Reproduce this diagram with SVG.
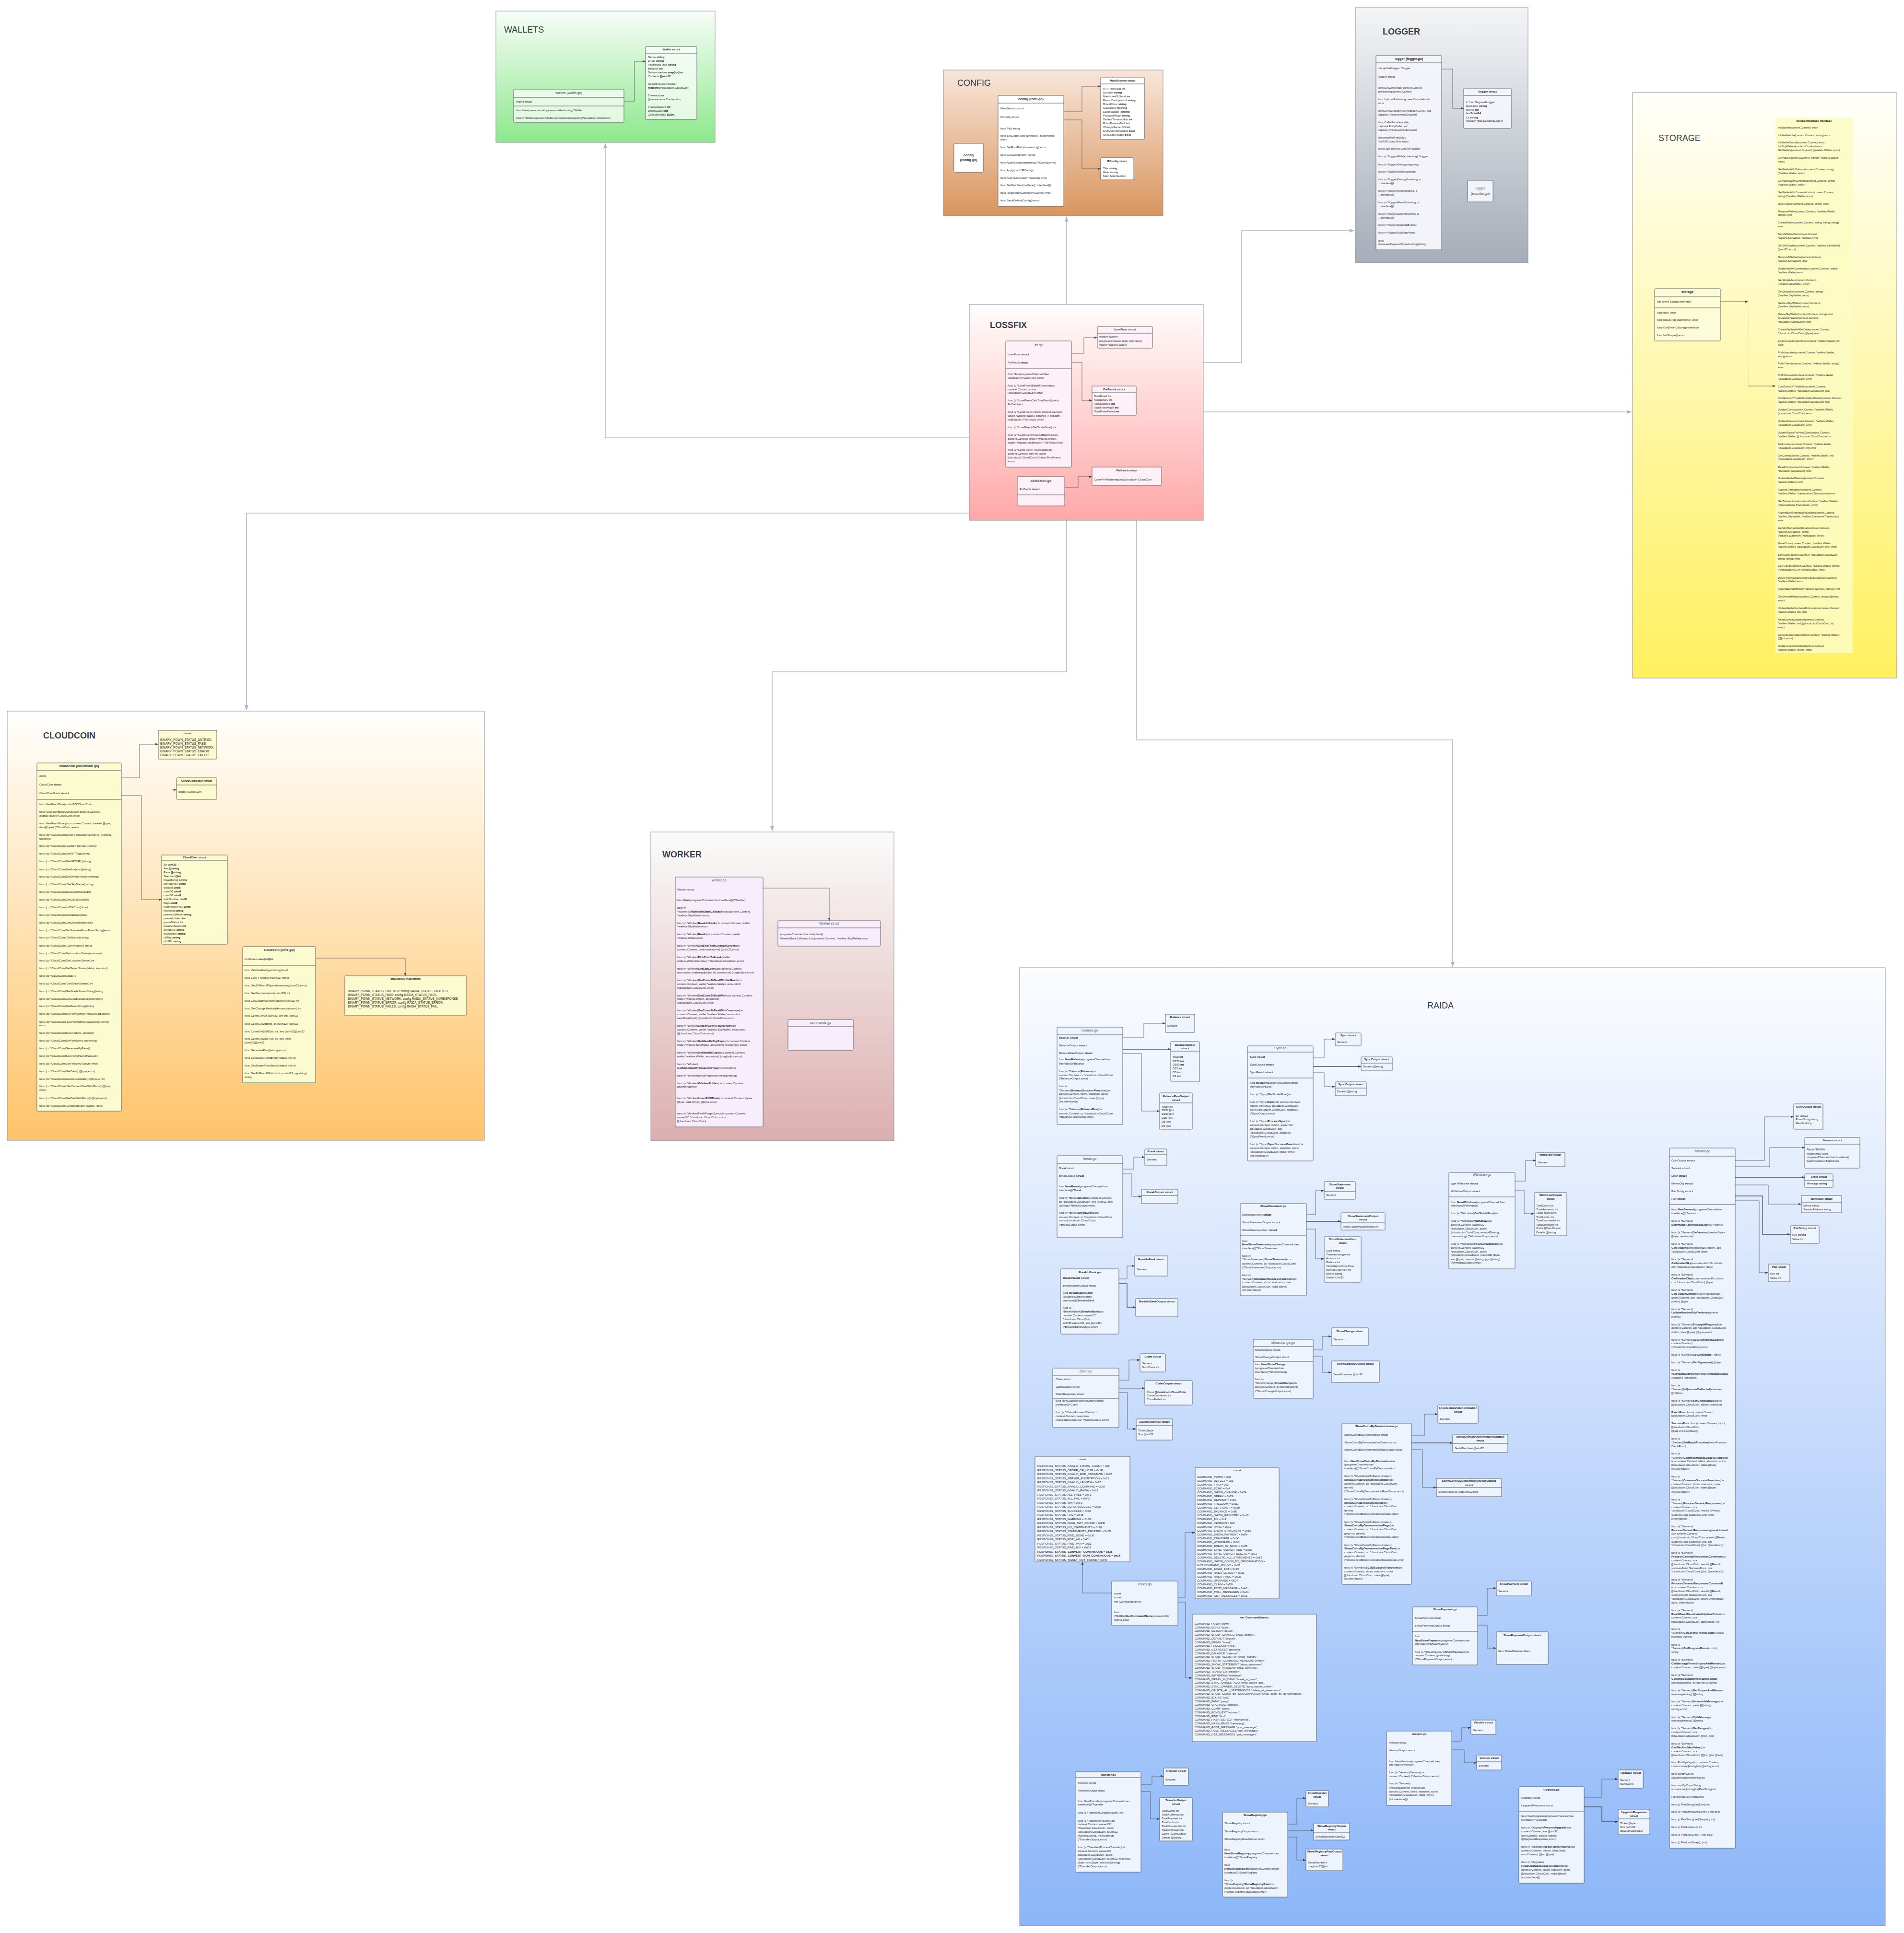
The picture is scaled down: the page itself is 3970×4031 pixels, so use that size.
<svg xmlns="http://www.w3.org/2000/svg" width="3970" height="4031" viewBox="0 0 3970 4031">
<defs>
<linearGradient id="gW" x1="0" y1="0" x2="0" y2="1"><stop offset="0" stop-color="#f7fdf7"/><stop offset="1" stop-color="#8de88d"/></linearGradient>
<linearGradient id="gC" x1="0" y1="0" x2="0" y2="1"><stop offset="0" stop-color="#f8e6da"/><stop offset="1" stop-color="#d9955f"/></linearGradient>
<linearGradient id="gL" x1="0" y1="0" x2="0" y2="1"><stop offset="0" stop-color="#f4f5f7"/><stop offset="1" stop-color="#a5adb8"/></linearGradient>
<linearGradient id="gS" x1="0" y1="0" x2="0" y2="1"><stop offset="0" stop-color="#fffffa"/><stop offset="1" stop-color="#fff05e"/></linearGradient>
<linearGradient id="gX" x1="0" y1="0" x2="0" y2="1"><stop offset="0" stop-color="#fffdfc"/><stop offset="1" stop-color="#ffa8a8"/></linearGradient>
<linearGradient id="gK" x1="0" y1="0" x2="0" y2="1"><stop offset="0" stop-color="#fffffd"/><stop offset="1" stop-color="#fec46a"/></linearGradient>
<linearGradient id="gR" x1="0" y1="0" x2="0" y2="1"><stop offset="0" stop-color="#fbfbfb"/><stop offset="1" stop-color="#dcafaf"/></linearGradient>
<linearGradient id="gA" x1="0" y1="0" x2="0" y2="1"><stop offset="0" stop-color="#fbfcff"/><stop offset="1" stop-color="#8cb6f8"/></linearGradient>
<marker id="ah" viewBox="0 0 10 8" refX="10" refY="4" markerWidth="6" markerHeight="4.8" markerUnits="userSpaceOnUse" orient="auto"><path d="M0,0 L10,4 L0,8 z" fill="#3f444c"/></marker>
<marker id="ax" viewBox="0 0 10 8" refX="10" refY="4" markerWidth="10" markerHeight="8" markerUnits="userSpaceOnUse" orient="auto"><path d="M0,0 L10,4 L0,8 z" fill="#aeb4c0"/></marker>
</defs>
<style>
.cl{stroke:#8d929b;stroke-width:1}
.ct{font-family:"Liberation Sans",Arial,sans-serif;font-size:18px;fill:#353c46}
.ctb{font-weight:bold}
.n{stroke:#3c424b;stroke-width:0.8}
.dv{stroke:#2f343b;stroke-width:0.8;fill:none}
.t{font-family:"Liberation Sans",Arial,sans-serif;font-size:6px;fill:#1d2126}
.s{font-size:5.7px}
.k{font-size:6.4px}
.tb{font-weight:bold}
.hs{font-family:"Liberation Sans",Arial,sans-serif;font-size:6px;font-weight:bold;fill:#1d2126;text-anchor:middle}
.hf{font-family:"Liberation Sans",Arial,sans-serif;font-size:7px;fill:#4a4f57;text-anchor:middle}
.hm{font-family:"Liberation Sans",Arial,sans-serif;font-size:7px;font-weight:bold;fill:#30353c;text-anchor:middle}
.e{fill:none;stroke:#4a4f58;stroke-width:0.8;marker-end:url(#ah)}
.ek{stroke-width:1.3}
.x{fill:none;stroke:#b4b9c5;stroke-width:1.6;marker-end:url(#ax)}
.fw{fill:#ffffff;fill-opacity:0.7}
.fc{fill:#ffffff}
.fl{fill:#f3f3fa}
.fs{fill:#fcfcd9}
.fi{fill:#fbfbc3;fill-opacity:0.85}
.fx{fill:#fdf0f7}
.fk{fill:#fbfbcf}
.fr{fill:#f8eefb}
.fa{fill:#edf4fd}
</style>
<rect width="3970" height="4031" fill="#ffffff"/>

<!-- package areas -->
<g id="area-wallets"><rect class="cl" x="1034" y="23" width="457" height="274" fill="url(#gW)"/><text class="ct" x="1051" y="68">WALLETS</text></g>
<g id="area-config"><rect class="cl" x="1967" y="146" width="458" height="304" fill="url(#gC)"/><text class="ct" x="1996" y="179">CONFIG</text></g>
<g id="area-logger"><rect class="cl" x="2826" y="15" width="360" height="533" fill="url(#gL)"/><text class="ct ctb" x="2883" y="72">LOGGER</text></g>
<g id="area-storage"><rect class="cl" x="3404" y="193" width="551" height="1221" fill="url(#gS)"/><text class="ct" x="3458" y="294" font-size="19">STORAGE</text></g>
<g id="area-lossfix"><rect class="cl" x="2021" y="635" width="488" height="450" fill="url(#gX)"/><text class="ct ctb" x="2064" y="684">LOSSFIX</text></g>
<g id="area-cloudcoin"><rect class="cl" x="15" y="1483" width="995" height="895" fill="url(#gK)"/><text class="ct ctb" x="90" y="1540">CLOUDCOIN</text></g>
<g id="area-worker"><rect class="cl" x="1357" y="1735" width="507" height="644" fill="url(#gR)"/><text class="ct ctb" x="1381" y="1788">WORKER</text></g>
<g id="area-raida"><rect class="cl" x="2126" y="2018" width="1805" height="1998" fill="url(#gA)"/><text class="ct" x="2976" y="2103" font-size="33.5">RAIDA</text></g>

<!-- connectors -->
<g id="connectors">
<path class="x" d="M2021,913 H1262 V299"/>
<path class="x" d="M2224,635 V452"/>
<path class="x" d="M2509,756 H2589 V481 H2824"/>
<path class="x" d="M2509,859 H3402"/>
<path class="x" d="M2021,1070 H514 V1481"/>
<path class="x" d="M2224,1085 V1401 H1610 V1733"/>
<path class="x" d="M2370,1085 V1543 H3029 V2016"/>
<path class="e" d="M1301,211 H1323 V128 H1346"/>
<path class="e" d="M2218,233 H2256 V180 H2295"/>
<path class="e" d="M2218,250 H2256 V352 H2295"/>
<path class="e" d="M3006,144 H3029 V226 H3052"/>
<path class="e" d="M3587,629 H3645"/>
<path class="e" d="M3645,629 V805" style="opacity:0.15;marker-end:none"/>
<path class="e" d="M3645,805 H3702"/>
<path class="e" d="M2234,737 H2260 V704 H2288"/>
<path class="e" d="M2234,756 H2256 V835 H2277"/>
<path class="e" d="M2220,1017 H2248 V994 H2277"/>
<path class="e" d="M253,1622 H291 V1552 H330"/>
<path class="e" d="M358,1647 H368"/>
<path class="e" d="M253,1659 H295 V1876 H337"/>
<path class="e" d="M658,1998 H845 V2035"/>
<path class="e" d="M1591,1852 H1729 V1920"/>
<path class="e" d="M2341,2163 H2385 V2134 H2430"/>
<path class="e ek" d="M2341,2188 H2441"/>
<path class="e" d="M2341,2197 H2380 V2317 H2418"/>
<path class="e" d="M2341,2438 H2364 V2413 H2387"/>
<path class="e" d="M2341,2448 H2360 V2495 H2380"/>
<path class="e" d="M2333,2667 H2350 V2640 H2366"/>
<path class="e ek" d="M2333,2677 H2350 V2726 H2368"/>
<path class="e" d="M2333,2878 H2354 V2836 H2377"/>
<path class="e" d="M2333,2895 H2387"/>
<path class="e" d="M2333,2904 H2351 V2980 H2369"/>
<path class="e" d="M2738,2206 H2761 V2167 H2784"/>
<path class="e ek" d="M2738,2224 H2838"/>
<path class="e" d="M2738,2237 H2761 V2266 H2784"/>
<path class="e" d="M2724,2533 H2743 V2483 H2761"/>
<path class="e ek" d="M2724,2547 H2796"/>
<path class="e" d="M2724,2563 H2743 V2625 H2761"/>
<path class="e" d="M2738,2815 H2757 V2787 H2776"/>
<path class="e" d="M2738,2828 H2757 V2862 H2776"/>
<path class="e" d="M2943,2994 H2970 V2949 H2998"/>
<path class="e ek" d="M2943,3009 H3029"/>
<path class="e" d="M2943,3023 H2966 V3102 H2995"/>
<path class="e" d="M3159,2463 H3181 V2420 H3202"/>
<path class="e" d="M3159,2482 H3178 V2531 H3199"/>
<path class="e" d="M3618,2420 H3679 V2329 H3740"/>
<path class="e" d="M3618,2433 H3690 V2393 H3763"/>
<path class="e ek" d="M3618,2455 H3763"/>
<path class="e" d="M3618,2471 H3687 V2511 H3756"/>
<path class="e ek" d="M3618,2494 H3675 V2574 H3733"/>
<path class="e" d="M3618,2504 H3668 V2654 H3687"/>
<path class="e" d="M2318,3322 H2257 V3257"/>
<path class="e" d="M2456,3332 H2471 V3196 H2492"/>
<path class="e" d="M2456,3341 H2472 V3499 H2486"/>
<path class="e" d="M3081,3369 H3101 V3312 H3120"/>
<path class="e" d="M3081,3389 H3101 V3437 H3120"/>
<path class="e" d="M3027,3631 H3047 V3603 H3067"/>
<path class="e" d="M3027,3649 H3053 V3676 H3079"/>
<path class="e" d="M2379,3721 H2402 V3704 H2426"/>
<path class="e" d="M2379,3736 H2399 V3793 H2418"/>
<path class="e" d="M2685,3804 H2704 V3750 H2723"/>
<path class="e" d="M2685,3817 H2739"/>
<path class="e" d="M2685,3831 H2704 V3879 H2723"/>
<path class="e" d="M3303,3749 H3340 V3710 H3374"/>
<path class="e ek" d="M3303,3768 H3340 V3799 H3374"/>
</g>

<!-- WALLETS -->
<g id="wallets-wallet-go">
<rect class="n fw" x="1071" y="186" width="230" height="69" rx="1.5"/>
<text class="hf" x="1186" y="196" fill="#2a2f36">wallets (wallet.go)</text>
<path class="dv" d="M1071,203 H1301 M1071,221 H1301"/>
<text class="t" x="1076" y="214" font-size="6.5">Wallet struct</text>
<text class="t" x="1076" y="232">func New(name, email, passwordHashstring)*Wallet</text>
<text class="t" x="1076" y="248">func(v *Wallet)GetCoinsByDenominations()map[int][]*cloudcoin.CloudCoin</text>
</g>
<g id="wallets-wallet-struct">
<rect class="n fw" x="1346" y="97" width="107" height="152" rx="1.5"/>
<text class="hs" x="1399.5" y="105">Wallet struct</text>
<path class="dv" d="M1346,111 H1453"/>
<text class="t" x="1351" y="121">Name <tspan class="tb">string</tspan></text>
<text class="t" x="1351" y="129">Email <tspan class="tb">string</tspan></text>
<text class="t" x="1351" y="137">PasswordHash <tspan class="tb">string</tspan></text>
<text class="t" x="1351" y="145">Balance <tspan class="tb">int</tspan></text>
<text class="t" x="1351" y="153">Denominations <tspan class="tb">map[int]int</tspan></text>
<text class="t" x="1351" y="161">Contents <tspan class="tb">[]uint32</tspan></text>
<text class="t" x="1351" y="177">CoinsByDenomination</text>
<text class="t" x="1351" y="185"><tspan class="tb">map[int]</tspan>[]*cloudcoin.CloudCoin</text>
<text class="t" x="1351" y="201">Transactions</text>
<text class="t" x="1351" y="209">[]transactions.Transaction</text>
<text class="t" x="1351" y="225">FrackedCount <tspan class="tb">int</tspan></text>
<text class="t" x="1351" y="233">LimboCount <tspan class="tb">int</tspan></text>
<text class="t" x="1351" y="241">CollectionMap <tspan class="tb">[][]int</tspan></text>
</g>

<!-- CONFIG -->
<g id="config-config-go">
<rect class="n fc" x="1989" y="299" width="61" height="60" rx="1.5"/>
<text class="hm" x="2019.5" y="325.5">config</text>
<text class="hm" x="2019.5" y="335.5">(config.go)</text>
</g>
<g id="config-toml-go">
<rect class="n fc" x="2081" y="199" width="137" height="231" rx="1.5"/>
<text class="hm" x="2149.5" y="209">config (toml.go)</text>
<path class="dv" d="M2081,215 H2218"/>
<text class="t" x="2086" y="228" font-size="6.4">MainSection struct</text>
<text class="t" x="2086" y="246" font-size="6.4">RConfig struct</text>
<text class="t" x="2086" y="270">func Ps() string</text>
<text class="t" x="2086" y="285">func SetExactRootPath(home, folderstring)</text>
<text class="t" x="2086" y="293">error</text>
<text class="t" x="2086" y="309">func SetRootPath(homestring) error</text>
<text class="t" x="2086" y="325">func GetConfigPath() string</text>
<text class="t" x="2086" y="341">func ApplyString(datastring)(*RConfig,error)</text>
<text class="t" x="2086" y="357">func Apply(conf *RConfig)</text>
<text class="t" x="2086" y="373">func ApplySave(conf *RConfig) error</text>
<text class="t" x="2086" y="388">func SetMainVar(interface{}, interface{})</text>
<text class="t" x="2086" y="404">func ReadApplyConfig()(*RConfig,error)</text>
<text class="t" x="2086" y="420">func SaveDefaultConfig() error</text>
</g>
<g id="config-mainsection">
<rect class="n fc" x="2295" y="161" width="91" height="130" rx="1.5"/>
<text class="hs" x="2340.5" y="170">MainSection struct</text>
<path class="dv" d="M2295,175 H2386"/>
<text class="t" x="2300" y="187">HTTPTimeout <tspan class="tb">int</tspan></text>
<text class="t" x="2300" y="195">Domain <tspan class="tb">string</tspan></text>
<text class="t" x="2300" y="203">MaxNotesToSend <tspan class="tb">int</tspan></text>
<text class="t" x="2300" y="211">ExportBackground  <tspan class="tb">string</tspan></text>
<text class="t" x="2300" y="219">BrandColor <tspan class="tb">string</tspan></text>
<text class="t" x="2300" y="227">Guardians <tspan class="tb">[]string</tspan></text>
<text class="t" x="2300" y="235">LocalRaidas <tspan class="tb">[]string</tspan></text>
<text class="t" x="2300" y="243">ProtocolMode <tspan class="tb">string</tspan></text>
<text class="t" x="2300" y="251">DefaultTimeoutMult <tspan class="tb">int</tspan></text>
<text class="t" x="2300" y="259">EchoTimeoutMult <tspan class="tb">int</tspan></text>
<text class="t" x="2300" y="267">ChangeServerSN <tspan class="tb">int</tspan></text>
<text class="t" x="2300" y="275">EncryptionDisabled <tspan class="tb">bool</tspan></text>
<text class="t" x="2300" y="283">UseLocalRaidas <tspan class="tb">bool</tspan></text>
</g>
<g id="config-rconfig">
<rect class="n fc" x="2295" y="329" width="69" height="46" rx="1.5"/>
<text class="hs" x="2329.5" y="338">RConfig struct</text>
<text class="t" x="2300" y="353">Title <tspan class="tb">string</tspan></text>
<text class="t" x="2300" y="361">Help  <tspan class="tb">string</tspan></text>
<text class="t" x="2300" y="369">Main  MainSection</text>
</g>

<!-- LOGGER -->
<g id="logger-logger-go">
<rect class="n fl" x="2869" y="116" width="137" height="405" rx="1.5"/>
<text class="hm" x="2937.5" y="125">logger (logger.go)</text>
<path class="dv" d="M2869,131 H3006"/>
<text class="t" x="2874" y="144" font-size="6.4">var globalLogger  *ilogger</text>
<text class="t" x="2874" y="162" font-size="6.4">ilogger struct</text>
<g class="t s">
<text x="2874" y="185">func SetContext(ctx context.Context,</text>
<text x="2874" y="193">prefixstring)context.Context</text>
<text x="2874" y="209">func Init(rootPathstring, needConsolebool)</text>
<text x="2874" y="217">error</text>
<text x="2874" y="233">func LevelEncoder(level zapcore.Level, enc</text>
<text x="2874" y="241">zapcore.PrimitiveArrayEncoder)</text>
<text x="2874" y="257">func CallerEncoder(caller</text>
<text x="2874" y="265">zapcore.EntryCaller, enc</text>
<text x="2874" y="273">zapcore.PrimitiveArrayEncoder)</text>
<text x="2874" y="289">func newWinFileSink(u</text>
<text x="2874" y="297">*url.URL)(zap.Sink,error)</text>
<text x="2874" y="312">func L(ctx context.Context)*ilogger</text>
<text x="2874" y="328">func (v *ilogger)With(k, valstring) *ilogger</text>
<text x="2874" y="345">func (v *ilogger)Debug(msgstring)</text>
<text x="2874" y="360">func (v *ilogger)Info(msgstring)</text>
<text x="2874" y="376">func (v *ilogger)Debugf(fmtstring, a</text>
<text x="2874" y="384">...interface{})</text>
<text x="2874" y="400">func (v *ilogger)Infof(fmtstring, a</text>
<text x="2874" y="408">...interface{})</text>
<text x="2874" y="424">func (v *ilogger)Warnf(fmtstring, a</text>
<text x="2874" y="432">...interface{})</text>
<text x="2874" y="448">func (v *ilogger)Errorf(fmtstring, a</text>
<text x="2874" y="456">...interface{})</text>
<text x="2874" y="471">func (v *ilogger)DoWrapBefore()</text>
<text x="2874" y="487">func (v *ilogger)DoWrapAfter()</text>
<text x="2874" y="504">func</text>
<text x="2874" y="511">GenerateRequestID(prefixstring)(string)</text>
</g>
</g>
<g id="logger-ilogger-struct">
<rect class="n fl" x="3052" y="184" width="99" height="84" rx="1.5"/>
<text class="hs" x="3101.5" y="193">ilogger struct</text>
<path class="dv" d="M3052,199 H3151"/>
<text class="t" x="3057" y="215">L *zap.SugaredLogger</text>
<text class="t" x="3057" y="223">lastCaller <tspan class="tb">string</tspan></text>
<text class="t" x="3057" y="231">lineNo <tspan class="tb">int</tspan></text>
<text class="t" x="3057" y="238">lastTs <tspan class="tb">int64</tspan></text>
<text class="t" x="3057" y="247">Ls <tspan class="tb">string</tspan></text>
<text class="t" x="3057" y="254">nlogger *zap.SugaredLogger</text>
</g>
<g id="logger-encoder-go">
<rect class="n fl" x="3060" y="376" width="53" height="45" rx="1.5"/>
<text class="hf" x="3086.5" y="395" font-size="7.5" fill="#333">logger</text>
<text class="hf" x="3086.5" y="406" font-size="7.5" fill="#333">(encoder.go)</text>
</g>

<!-- STORAGE -->
<g id="storage-storage">
<rect class="n fs" x="3450" y="602" width="137" height="109" rx="1.5"/>
<text class="hm" x="3518.5" y="611">storage</text>
<path class="dv" d="M3450,619 H3587 M3450,642 H3587"/>
<text class="t" x="3455" y="631" font-size="6.4">var driver StorageInterface</text>
<text class="t" x="3455" y="654">func Init() error</text>
<text class="t" x="3455" y="669">func InitLite(idFolderstring) error</text>
<text class="t" x="3455" y="685">func GetDriver()StorageInterface</text>
<text class="t" x="3455" y="701">func InitSimple() error</text>
</g>
<g id="storage-interface">
<rect class="fi" x="3702" y="245" width="161" height="1117" rx="1.5"/>
<text class="hs" x="3782.5" y="254">StorageInterface interface</text>
<g class="t s">
<text x="3707" y="268">InitWallets(context.Context) error</text>
<text x="3707" y="283.6">InitWalletsLite(context.Context, string) error</text>
<text x="3707" y="299.4">InitWalletSimple(context.Context) error</text>
<text x="3707" y="307.3">InitSkyWallets(context.Context) error</text>
<text x="3707" y="315.2">GetWallets(context.Context) ([]wallets.Wallet, error)</text>
<text x="3707" y="331.4"> GetWallet(context.Context, string) (*wallets.Wallet,</text>
<text x="3707" y="339.3">error)</text>
<text x="3707" y="355.1">GetWalletWithBalance(context.Context, string)</text>
<text x="3707" y="363">(*wallets.Wallet, error)</text>
<text x="3707" y="378.9">GetWalletWithContents(context.Context, string)</text>
<text x="3707" y="386.8">(*wallets.Wallet, error)</text>
<text x="3707" y="402.6">GetWalletWithContentsLimbo(context.Context,</text>
<text x="3707" y="410.5">string) (*wallets.Wallet, error)</text>
<text x="3707" y="426.7">DeleteWallet(context.Context, string) error</text>
<text x="3707" y="442.5">RenameWallet(context.Context, *wallets.Wallet,</text>
<text x="3707" y="450.4">string) error</text>
<text x="3707" y="466.3">CreateWallet(context.Context, string, string, string)</text>
<text x="3707" y="474.2">error</text>
<text x="3707" y="490.4">SaveSNsCache(context.Context,</text>
<text x="3707" y="498.3">*wallets.SkyWallet, []uint32) error</text>
<text x="3707" y="514.1">GetSNsCache(context.Context, *wallets.SkyWallet)</text>
<text x="3707" y="522">([]uint32, error)</text>
<text x="3707" y="538.2">RemoveSNsCache(context.Context,</text>
<text x="3707" y="546.1">*wallets.SkyWallet) error</text>
<text x="3707" y="561.9">UpdateWalletContents(ctx context.Context, wallet</text>
<text x="3707" y="569.8">*wallets.Wallet) error</text>
<text x="3707" y="585.7">GetSkyWallets(context.Context)</text>
<text x="3707" y="593.6">([]wallets.SkyWallet, error)</text>
<text x="3707" y="609.8">GetSkyWallet(context.Context, string)</text>
<text x="3707" y="617.7">(*wallets.SkyWallet, error)</text>
<text x="3707" y="633.5">GetFirstSkyWallet(context.Context)</text>
<text x="3707" y="641.4">(*wallets.SkyWallet, error)</text>
<text x="3707" y="657.2">DeleteSkyWallet(context.Context, string) error</text>
<text x="3707" y="665.1">CreateSkyWallet(context.Context,</text>
<text x="3707" y="673">*cloudcoin.CloudCoin) error</text>
<text x="3707" y="689.3">CreateSkyWalletWithData(context.Context,</text>
<text x="3707" y="697.2">*cloudcoin.CloudCoin, []byte) error</text>
<text x="3707" y="713">EmptyLocation(context.Context, *wallets.Wallet, int)</text>
<text x="3707" y="720.9">error</text>
<text x="3707" y="736.7">PutInImported(context.Context, *wallets.Wallet,</text>
<text x="3707" y="744.6">string) error</text>
<text x="3707" y="760.4">PutInTrash(context.Context, *wallets.Wallet, string)</text>
<text x="3707" y="768.3">error</text>
<text x="3707" y="784.2">PutInSuspect(context.Context, *wallets.Wallet,</text>
<text x="3707" y="792.1">[]cloudcoin.CloudCoin) error</text>
<text x="3707" y="807.9">CoinExistsInTheWallet(context.Context,</text>
<text x="3707" y="816.6">*wallets.Wallet, *cloudcoin.CloudCoin) bool</text>
<text x="3707" y="832.4">CoinExistsInTheWalletAndAuthentic(context.Context,</text>
<text x="3707" y="840.4">*wallets.Wallet, *cloudcoin.CloudCoin) bool</text>
<text x="3707" y="856.2">UpdateCoins(context.Context, *wallets.Wallet,</text>
<text x="3707" y="864.1">[]cloudcoin.CloudCoin) error</text>
<text x="3707" y="880.3"> UpdateStatus(context.Context, *wallets.Wallet,</text>
<text x="3707" y="888.2">[]cloudcoin.CloudCoin) error</text>
<text x="3707" y="904">UpdateStatusForNewCoin(context.Context,</text>
<text x="3707" y="911.9">*wallets.Wallet, []cloudcoin.CloudCoin) error</text>
<text x="3707" y="927.7"> SetLocation(context.Context, *wallets.Wallet,</text>
<text x="3707" y="935.6">[]cloudcoin.CloudCoin, int) error</text>
<text x="3707" y="951.5">GetCoins(context.Context, *wallets.Wallet, int)</text>
<text x="3707" y="959.4">([]cloudcoin.CloudCoin, error)</text>
<text x="3707" y="975.6">ReadCoin(context.Context, *wallets.Wallet,</text>
<text x="3707" y="983.5">*cloudcoin.CloudCoin) error</text>
<text x="3707" y="999.3">UpdateWalletBalance(context.Context,</text>
<text x="3707" y="1007.2">*wallets.Wallet) error</text>
<text x="3707" y="1023.4">AppendTransaction(context.Context,</text>
<text x="3707" y="1031.3">*wallets.Wallet, *transactions.Transaction) error</text>
<text x="3707" y="1047.2">GetTransactions(context.Context, *wallets.Wallet)</text>
<text x="3707" y="1055.1">([]transactions.Transaction, error)</text>
<text x="3707" y="1070.9">AppendSkyTransactionDetails(context.Context,</text>
<text x="3707" y="1078.8">*wallets.SkyWallet, *wallets.StatementTransaction)</text>
<text x="3707" y="1086.7">error</text>
<text x="3707" y="1102.9">GetSkyTransactionDetails(context.Context,</text>
<text x="3707" y="1110.8">*wallets.SkyWallet, string)</text>
<text x="3707" y="1118.7">(*wallets.StatementTransaction, error)</text>
<text x="3707" y="1134.5">MoveCoins(context.Context, *wallets.Wallet,</text>
<text x="3707" y="1142.4">*wallets.Wallet, []cloudcoin.CloudCoin) (int, error)</text>
<text x="3707" y="1158.7">SaveCoin(context.Context, *cloudcoin.CloudCoin,</text>
<text x="3707" y="1166.6">string, string) error</text>
<text x="3707" y="1182.4">GetReceipt(context.Context, *wallets.Wallet, string)</text>
<text x="3707" y="1190.3">(*transactions.GetReceiptOutput, error)</text>
<text x="3707" y="1206.5">DeleteTransactionsAndReceipts(context.Context,</text>
<text x="3707" y="1214.4">*wallets.Wallet) error</text>
<text x="3707" y="1229.8">AppendSenderHistory(context.Context, string) error</text>
<text x="3707" y="1246">GetSenderHistory(context.Context, string) ([]string,</text>
<text x="3707" y="1254">error)</text>
<text x="3707" y="1269.8">UpdateWalletContentsForLocation(context.Context,</text>
<text x="3707" y="1277.7">*wallets.Wallet, int) error</text>
<text x="3707" y="1293.9">ReadCoinsInLocation(context.Context,</text>
<text x="3707" y="1301.8">*wallets.Wallet, int) ([]cloudcoin.CloudCoin, int,</text>
<text x="3707" y="1309.7">error)</text>
<text x="3707" y="1325.5">GetCollectionMap(context.Context, *wallets.Wallet)</text>
<text x="3707" y="1333.4">([][]int, error)</text>
<text x="3707" y="1349.3">UpdateCollectionMap(context.Context,</text>
<text x="3707" y="1357.2">*wallets.Wallet, [][]int) (error)</text>
</g>
</g>

<!-- LOSSFIX -->
<g id="lossfix-fix-go">
<rect class="n fx" x="2097" y="711" width="137" height="263" rx="1.5"/>
<text class="hf" x="2165.5" y="722" font-size="7.5">fix.go</text>
<text class="t" x="2101" y="741" font-size="6.4">LossFixer <tspan class="tb">struct</tspan></text>
<text class="t" x="2101" y="758" font-size="6.4">FixResult <tspan class="tb">struct</tspan></text>
<path class="dv" d="M2097,769 H2234"/>
<g class="t">
<text x="2101" y="782">func New(progressChannelchan</text>
<text x="2101" y="790">interface{})(*LossFixer,error)</text>
<text x="2101" y="806">func (v *LossFixer)BatchFunction(ctx</text>
<text x="2101" y="814">context.Context, coins</text>
<text x="2101" y="821">[]cloudcoin.CloudCoin)error</text>
<text x="2101" y="837">func (v *LossFixer)CalcTotalBatch(batch</text>
<text x="2101" y="845">FixBatch)int</text>
<text x="2101" y="861">func (v *LossFixer) Fix(ctx context.Context,</text>
<text x="2101" y="869">wallet *wallets.Wallet, batches []FixBatch,</text>
<text x="2101" y="877">noBf bool) (*FixResult, error)</text>
<text x="2101" y="893"> func (v *LossFixer) GetStrideSize() int</text>
<text x="2101" y="909">func (v *LossFixer)ProcessBatchFix(ctx</text>
<text x="2101" y="917">context.Context, wallet *wallets.Wallet,</text>
<text x="2101" y="925">batch FixBatch, noBfbool) (*FixResult,error)</text>
<text x="2101" y="940">func (v *LossFixer) FixOnRaida(ctx</text>
<text x="2101" y="948">context.Context, ridx int, coins</text>
<text x="2101" y="956">[]cloudcoin.CloudCoin) (*raida.FindResult,</text>
<text x="2101" y="964">error)</text>
</g>
</g>
<g id="lossfix-lossfixer-struct">
<rect class="n fx" x="2288" y="681" width="115" height="45" rx="1.5"/>
<text class="hs" x="2345.5" y="689">LossFixer struct</text>
<path class="dv" d="M2288,696 H2403"/>
<text class="t" x="2292" y="704">worker.Worker</text>
<text class="t" x="2292" y="713">progressChannel chan interface{}</text>
<text class="t" x="2292" y="721">Wallet *wallets.Wallet</text>
</g>
<g id="lossfix-fixresult-struct">
<rect class="n fx" x="2277" y="805" width="92" height="61" rx="1.5"/>
<text class="hs" x="2323" y="814">FixResult struct</text>
<path class="dv" d="M2277,819 H2369"/>
<text class="t" x="2281" y="828">TotalFixed  <tspan class="tb">int</tspan></text>
<text class="t" x="2281" y="836">TotalErrors <tspan class="tb">int</tspan></text>
<text class="t" x="2281" y="844">TotalSkipped <tspan class="tb">int</tspan></text>
<text class="t" x="2281" y="852">TotalFixesMade <tspan class="tb">int</tspan></text>
<text class="t" x="2281" y="860">TotalFixesFailed <tspan class="tb">int</tspan></text>
</g>
<g id="lossfix-coinbatch-go">
<rect class="n fx" x="2121" y="994" width="99" height="61" rx="1.5"/>
<text class="hf" x="2170.5" y="1004.5" font-size="7.5" font-weight="bold">coinbatch.go</text>
<text class="t" x="2126" y="1022" font-size="6.4">FixBatch <tspan class="tb">struct</tspan></text>
<path class="dv" d="M2121,1032 H2220"/>
</g>
<g id="lossfix-fixbatch-struct">
<rect class="n fx" x="2277" y="974" width="145" height="38" rx="1.5"/>
<text class="hs" x="2349.5" y="983">FixBatch struct</text>
<text class="t" x="2281" y="1002">CoinsPerRaidamap[int][]cloudcoin.CloudCoin</text>
</g>

<!-- CLOUDCOIN -->
<g id="cloudcoin-cloudcoin-go">
<rect class="n fk" x="77" y="1591" width="176" height="726" rx="1.5"/>
<text class="hm" x="165" y="1600" font-size="6.6">cloudcoin (cloudcoin.go)</text>
<path class="dv" d="M77,1607 H253 M77,1667 H253"/>
<text class="t" x="82" y="1620">const</text>
<text class="t" x="82" y="1638">CloudCoin <tspan class="tb">struct</tspan></text>
<text class="t" x="82" y="1656">CloudCoinStack <tspan class="tb">struct</tspan></text>
<g class="t">
<text x="82" y="1679">func NewFromData(snuint32)*CloudCoin</text>
<text x="82" y="1695">func NewFromBinarySingle(ctx context.Context,</text>
<text x="82" y="1703">alldata []byte)(*CloudCoin,error)</text>
<text x="82" y="1719">func NewFromBinary(ctx context.Context, header []byte,</text>
<text x="82" y="1727">data[] byte) (*CloudCoin, error)</text>
<text x="82" y="1743">func (cc *CloudCoin)SetNFTData(domainstring, urlstring,</text>
<text x="82" y="1751">tagstring)</text>
<text x="82" y="1766">func (cc *CloudCoin) GetNFTDomain() string</text>
<text x="82" y="1782">func (cc *CloudCoin)GetNFTTag()string</text>
<text x="82" y="1798">func (cc *CloudCoin)GetNFTURL()string</text>
<text x="82" y="1815">func (cc *CloudCoin)SetAns(ans []string)</text>
<text x="82" y="1830">func (cc *CloudCoin)SetSkyName(namestring)</text>
<text x="82" y="1846">func (cc *CloudCoin) GetSkyName() string</text>
<text x="82" y="1862">func (cc *CloudCoin)SetCoinID(iduint16)</text>
<text x="82" y="1878">func (cc *CloudCoin)GetCoinID()uint16</text>
<text x="82" y="1894">func (cc *CloudCoin) IsIDXCoin() bool</text>
<text x="82" y="1910">func (cc *CloudCoin)IsChatCoin()bool</text>
<text x="82" y="1926">func (cc *CloudCoin)GetDenomination()int</text>
<text x="82" y="1942">func (cc *CloudCoin)SetStatusesFromPownString()error</text>
<text x="82" y="1957">func (cc *CloudCoin) GetName() string</text>
<text x="82" y="1974">func (cc *CloudCoin) GetImName() string</text>
<text x="82" y="1990">func (cc *CloudCoin)SetLocationStatus(statusint)</text>
<text x="82" y="2005">func (cc *CloudCoin)GetLocationStatus()int</text>
<text x="82" y="2021">func (cc *CloudCoin)SetDetectStatus(idxint, statusint)</text>
<text x="82" y="2037">func (cc *CloudCoin)Grade()</text>
<text x="82" y="2053">func (cc *CloudCoin) GetGradeStatus() int</text>
<text x="82" y="2069">func (cc *CloudCoin)GetGradeStatusString()string</text>
<text x="82" y="2085">func (cc *CloudCoin)GetGradeStatusString()string</text>
<text x="82" y="2100">func (cc *CloudCoin)GetPownString()string</text>
<text x="82" y="2116">func (cc *CloudCoin)SetPownStringFromDetectStatus()</text>
<text x="82" y="2133">func (cc *CloudCoin) SetPownString(pownstring string)</text>
<text x="82" y="2140">error</text>
<text x="82" y="2156">func (cc *CloudCoin)SetAn(idxint, anstring)</text>
<text x="82" y="2172">func (cc *CloudCoin)SetPan(idxint, panstring)</text>
<text x="82" y="2188">func (cc *CloudCoin)GenerateMyPans()</text>
<text x="82" y="2204">func (cc *CloudCoin)SetAnsToPansIfPassed()</text>
<text x="82" y="2220">func (cc *CloudCoin)GetHeader() ([]byte,error)</text>
<text x="82" y="2236">func (cc *CloudCoin)GetData() ([]byte,error)</text>
<text x="82" y="2252">func (cc *CloudCoin)GetContentData() ([]byte,error)</text>
<text x="82" y="2267">func (cc *CloudCoin) GetContentDataWithPans() ([]byte,</text>
<text x="82" y="2275">error)</text>
<text x="82" y="2292">func (cc *CloudCoin)GetDataWithPans() ([]byte,error)</text>
<text x="82" y="2308">func (cc *CloudCoin) EncodeBinaryPowns() []byte</text>
</g>
</g>
<g id="cloudcoin-const">
<rect class="n fk" x="330" y="1523" width="122" height="60" rx="1.5"/>
<text class="hs" x="391" y="1531">const</text>
<g class="t k">
<text x="334" y="1545">BINARY_POWN_STATUS_UNTRIED</text>
<text x="334" y="1553">BINARY_POWN_STATUS_PASS</text>
<text x="334" y="1561">BINARY_POWN_STATUS_NETWORK</text>
<text x="334" y="1569">BINARY_POWN_STATUS_ERROR</text>
<text x="334" y="1577">BINARY_POWN_STATUS_FAILED</text>
</g>
</g>
<g id="cloudcoin-stack-struct">
<rect class="n fk" x="368" y="1622" width="84" height="45" rx="1.5"/>
<text class="hs" x="410" y="1630">CloudCoinStack struct</text>
<path class="dv" d="M368,1637 H452"/>
<text class="t" x="372" y="1653">Stack []CloudCoin</text>
</g>
<g id="cloudcoin-cloudcoin-struct">
<rect class="n fk" x="337" y="1783" width="137" height="186" rx="1.5"/>
<text class="hs" x="405.5" y="1790">CloudCoin struct</text>
<path class="dv" d="M337,1794 H474"/>
<g class="t">
<text x="341" y="1805">Sn   <tspan class="tb">uint32</tspan></text>
<text x="341" y="1813">Ans   <tspan class="tb">[]string</tspan></text>
<text x="341" y="1821">Pans     <tspan class="tb">[]string</tspan></text>
<text x="341" y="1829">Statuses <tspan class="tb">[]int</tspan></text>
<text x="341" y="1837">PownString <tspan class="tb">string</tspan></text>
<text x="341" y="1845">formatType <tspan class="tb">uint8</tspan></text>
<text x="341" y="1853">cloudId <tspan class="tb">uint8</tspan></text>
<text x="341" y="1861">coinID1 <tspan class="tb">uint8</tspan></text>
<text x="341" y="1869">coinID2 <tspan class="tb">uint8</tspan></text>
<text x="341" y="1877">splitNumber <tspan class="tb">uint8</tspan></text>
<text x="341" y="1885">flags <tspan class="tb">uint8</tspan></text>
<text x="341" y="1893">encryptionType <tspan class="tb">uint8</tspan></text>
<text x="341" y="1901">receiptId <tspan class="tb">string</tspan></text>
<text x="341" y="1909">passwordHash <tspan class="tb">string</tspan></text>
<text x="341" y="1917">passed, failed <tspan class="tb">int</tspan></text>
<text x="341" y="1925">gradeStatus <tspan class="tb">int</tspan></text>
<text x="341" y="1933">locationStatus <tspan class="tb">int</tspan></text>
<text x="341" y="1941">skyName <tspan class="tb">string</tspan></text>
<text x="341" y="1949">nftDomain <tspan class="tb">string</tspan></text>
<text x="341" y="1957">nftTag <tspan class="tb">string</tspan></text>
<text x="341" y="1965">nftURL <tspan class="tb">string</tspan></text>
</g>
</g>
<g id="cloudcoin-utils-go">
<rect class="n fk" x="506" y="1974" width="152" height="284" rx="1.5"/>
<text class="hm" x="582" y="1983" font-size="6.6">cloudcoin (utils.go)</text>
<text class="t" x="510" y="2002">bin2status <tspan class="tb">map[int]int</tspan></text>
<path class="dv" d="M506,2013 H658"/>
<g class="t">
<text x="510" y="2025">func ValidateGuid(guidstring) bool</text>
<text x="510" y="2041">func GetIPFromSn(snuint32) string</text>
<text x="510" y="2057">func GetSNFromIP(ipaddressstring)(uint32,error)</text>
<text x="510" y="2073">func GetDenomination(snuint32) int</text>
<text x="510" y="2089">func GetLegacyDenomination(snuint32) int</text>
<text x="510" y="2105">func GetChangeMethod(denominationint) int</text>
<text x="510" y="2120">func CoinsGetA(a []uint32, cnt int) []uint32</text>
<text x="510" y="2137">func CoinsGet25B(sb, ss []uint32) []uint32</text>
<text x="510" y="2153">func CoinsGet100E(sb, ss, sss []uint32)[]uint32</text>
<text x="510" y="2168">func CoinsGet250F(sb, ss, sss, ssss</text>
<text x="510" y="2176">[]uint32)[]uint32</text>
<text x="510" y="2192">func GeneratePan()(string,error)</text>
<text x="510" y="2208">func GetStatusFromBinary(status int) int</text>
<text x="510" y="2224">func GetBinaryFromStatus(status int) int</text>
<text x="510" y="2240">func GetANFromPG(ridx int, sn uint32, pg string)</text>
<text x="510" y="2248">string</text>
</g>
</g>
<g id="cloudcoin-bin2status">
<rect class="n fk" x="719" y="2035" width="253" height="83" rx="1.5"/>
<text class="hs" x="845.5" y="2043">bin2status map[int]int</text>
<g class="t k">
<text x="725" y="2069">BINARY_POWN_STATUS_UNTRIED: config.RAIDA_STATUS_UNTRIED,</text>
<text x="725" y="2077">BINARY_POWN_STATUS_PASS: config.RAIDA_STATUS_PASS,</text>
<text x="725" y="2085">BINARY_POWN_STATUS_NETWORK: config.RAIDA_STATUS_NORESPONSE,</text>
<text x="725" y="2093">BINARY_POWN_STATUS_ERROR: config.RAIDA_STATUS_ERROR,</text>
<text x="725" y="2101">BINARY_POWN_STATUS_FAILED: config.RAIDA_STATUS_FAIL,</text>
</g>
</g>

<!-- WORKER -->
<g id="worker-worker-go">
<rect class="n fr" x="1408" y="1829" width="183" height="521" rx="1.5"/>
<text class="hf" x="1499.5" y="1838" font-size="7.5">worker.go</text>
<text class="t" x="1412" y="1857">Worker struct</text>
<g class="t">
<text x="1412" y="1879">func <tspan class="tb">New</tspan>(progressChannelchan interface{})(*Worker)</text>
<text x="1412" y="1895">func (v</text>
<text x="1412" y="1903">*Worker)<tspan class="tb">SetBreakInBankCallback</tspan>(func(context.Context,</text>
<text x="1412" y="1911">*wallets.SkyWallet) error)</text>
<text x="1412" y="1927">func (v *Worker)<tspan class="tb">BreakInBank</tspan>(ctx context.Context, wallet</text>
<text x="1412" y="1934">*wallets.SkyWallet)error</text>
<text x="1412" y="1950">func (v *Worker)<tspan class="tb">Break</tspan>(ctx context.Context, wallet</text>
<text x="1412" y="1958">*wallets.Wallet)error</text>
<text x="1412" y="1974">func (v *Worker)<tspan class="tb">GetSNsFromChangeServer</tspan>(ctx</text>
<text x="1412" y="1982">context.Context, denominationint) ([]uint32,error)</text>
<text x="1412" y="1998">func (v *Worker)<tspan class="tb">PickCoinToBreak</tspan>(wallet</text>
<text x="1412" y="2006">wallets.WalletInterface) (*cloudcoin.CloudCoin,error)</text>
<text x="1412" y="2022">func (v *Worker)<tspan class="tb">GetExpCoins</tspan>(ctx context.Context,</text>
<text x="1412" y="2030">amountint, totalsmap[int]int, isLooseebool) (map[int]int,error)</text>
<text x="1412" y="2046">func (v *Worker)<tspan class="tb">GetCoinsToDealWithNoRead</tspan>(ctx</text>
<text x="1412" y="2054">context.Context, wallet *wallets.Wallet, amountint)</text>
<text x="1412" y="2062">([]cloudcoin.CloudCoin,error)</text>
<text x="1412" y="2078">func (v *Worker)<tspan class="tb">GetCoinsToDealWith</tspan>(ctx context.Context,</text>
<text x="1412" y="2085">wallet *wallets.Wallet, amountint)</text>
<text x="1412" y="2093">([]cloudcoin.CloudCoin,error)</text>
<text x="1412" y="2109">func (v *Worker)<tspan class="tb">GetCoinsToDealWithCommon</tspan>(ctx</text>
<text x="1412" y="2117">context.Context, wallet *wallets.Wallet, amountint,</text>
<text x="1412" y="2125">needReadbool) ([]cloudcoin.CloudCoin,error)</text>
<text x="1412" y="2141">func (v *Worker)<tspan class="tb">GetSkyCoinsToDealWith</tspan>(ctx</text>
<text x="1412" y="2149">context.Context, wallet *wallets.SkyWallet, amountint)</text>
<text x="1412" y="2157">([]cloudcoin.CloudCoin,error)</text>
<text x="1412" y="2173">func (v *Worker)<tspan class="tb">GetHandleSkyExps</tspan>(ctx context.Context,</text>
<text x="1412" y="2181">wallet *wallets.SkyWallet, amountint) (map[int]int,error)</text>
<text x="1412" y="2197">func (v *Worker)<tspan class="tb">GetHandleExps</tspan>(ctx context.Context,</text>
<text x="1412" y="2205">wallet *wallets.Wallet, amountint) (map[int]int,error)</text>
<text x="1412" y="2221">func (v *Worker)</text>
<text x="1412" y="2229"><tspan class="tb">GetStatementTransactionType</tspan>(typeint)string</text>
<text x="1412" y="2245">func (v *Worker)SendProgress(messagestring)</text>
<text x="1412" y="2261">func (v *Worker)<tspan class="tb">ValidateFolder</tspan>(ctx context.Context,</text>
<text x="1412" y="2268">pathstring)error</text>
<text x="1412" y="2292">func (v *Worker)<tspan class="tb">InsertPNGData</tspan>(ctx context.Context, bytes</text>
<text x="1412" y="2300">[]byte, data []byte) ([]byte,error)</text>
<text x="1412" y="2324">func (s *Worker)FireNForgetSync(ctx context.Context,</text>
<text x="1412" y="2332">ownerCC *cloudcoin.CloudCoin, coins</text>
<text x="1412" y="2340">[]cloudcoin.CloudCoin)</text>
</g>
</g>
<g id="worker-worker-struct">
<rect class="n fr" x="1622" y="1920" width="214" height="53" rx="1.5"/>
<text class="hf" x="1729" y="1928" font-size="6.4" fill="#222">Worker struct</text>
<path class="dv" d="M1622,1935 H1836"/>
<text class="t" x="1627" y="1950">progressChannel chan interface{}</text>
<text class="t" x="1627" y="1959">BreakInBankCallback func(context.Context, *wallets.SkyWallet) error</text>
</g>
<g id="worker-commands-go">
<rect class="n fr" x="1643" y="2126" width="136" height="64" rx="1.5"/>
<text class="hf" x="1711" y="2134.5" font-size="7.5">commands.go</text>
<path class="dv" d="M1643,2141 H1779"/>
</g>

<!-- RAIDA -->
<g id="raida-balance-go">
<rect class="n fa" x="2204" y="2142" width="137" height="203" rx="1.5"/>
<text class="hf" x="2272.5" y="2151">balance.go</text>
<path class="dv" d="M2204,2158 H2341"/>
<g class="t">
<text x="2208" y="2166">Balance <tspan class="tb">struct</tspan></text>
<text x="2208" y="2182">BalanceOutput <tspan class="tb">struct</tspan></text>
<text x="2208" y="2198">BalanceRawOutput <tspan class="tb">struct</tspan></text>
<text x="2208" y="2211">func <tspan class="tb">NewBalance</tspan>(progressChannelchan</text>
<text x="2208" y="2220">interface{})*Balance</text>
<text x="2208" y="2236">func (v *Balance)<tspan class="tb">Balance</tspan>(ctx</text>
<text x="2208" y="2244">context.Context, cc *cloudcoin.CloudCoin)</text>
<text x="2208" y="2251">(*BalanceOutput,error)</text>
<text x="2208" y="2267">func (v</text>
<text x="2208" y="2276">*Servant)<tspan class="tb">BalanceSuccessFunction</tspan>(ctx</text>
<text x="2208" y="2283">context.Context, idxint, statusint, coins</text>
<text x="2208" y="2292">[]cloudcoin.CloudCoin, rdata []byte)</text>
<text x="2208" y="2299">(int,interface{})</text>
<text x="2208" y="2315">func (v *Balance)<tspan class="tb">BalanceRaw</tspan>(ctx</text>
<text x="2208" y="2324">context.Context, cc *cloudcoin.CloudCoin)</text>
<text x="2208" y="2331">(*BalanceRawOutput,error)</text>
</g>
</g>
<g id="raida-balance-struct"><rect class="n fa" x="2430" y="2115" width="61" height="38" rx="1.5"/><text class="hs" x="2460.5" y="2123">Balance struct</text><text class="t" x="2434" y="2141">Servant</text></g>
<g id="raida-balanceoutput-struct"><rect class="n fa" x="2441" y="2172" width="60" height="84" rx="1.5"/><text class="hs" x="2471" y="2181">BalanceOutput</text><text class="hs" x="2471" y="2188">struct</text><path class="dv" d="M2441,2192 H2501"/>
<g class="t"><text x="2445" y="2206">Total <tspan class="tb">int</tspan></text><text x="2445" y="2215">D250 <tspan class="tb">int</tspan></text><text x="2445" y="2222">D100 <tspan class="tb">int</tspan></text><text x="2445" y="2230">D25 <tspan class="tb">int</tspan></text><text x="2445" y="2238">D5 <tspan class="tb">int</tspan></text><text x="2445" y="2246">D1 <tspan class="tb">int</tspan></text></g></g>
<g id="raida-balancerawoutput-struct"><rect class="n fa" x="2418" y="2279" width="68" height="77" rx="1.5"/><text class="hs" x="2452" y="2288">BalanceRawOutput</text><text class="hs" x="2452" y="2296">struct</text><path class="dv" d="M2418,2300 H2486"/>
<g class="t"><text x="2422" y="2310">Total []int</text><text x="2422" y="2317">D250 []int</text><text x="2422" y="2325">D100 []int</text><text x="2422" y="2333">D25 []int</text><text x="2422" y="2341">D5 []int</text><text x="2422" y="2350">D1 []int</text></g></g>

<g id="raida-break-go">
<rect class="n fa" x="2204" y="2410" width="137" height="171" rx="1.5"/>
<text class="hf" x="2272.5" y="2419">break.go</text>
<path class="dv" d="M2204,2426 H2341"/>
<g class="t">
<text x="2208" y="2438">Break struct</text>
<text x="2208" y="2454">BreakOutput <tspan class="tb">struct</tspan></text>
<text x="2208" y="2476">func <tspan class="tb">NewBreak</tspan>(progressChannelchan</text>
<text x="2208" y="2484">interface{})*Break</text>
<text x="2208" y="2500">func (v *Break)<tspan class="tb">Break</tspan>(ctx context.Context,</text>
<text x="2208" y="2508">cc *cloudcoin.CloudCoin, sns []uint32, pgs</text>
<text x="2208" y="2516">[]string) (*BreakOutput,error)</text>
<text x="2208" y="2531">func (v *Break)<tspan class="tb">BreakCoins</tspan>(ctx</text>
<text x="2208" y="2540">context.Context, cc *cloudcoin.CloudCoin,</text>
<text x="2208" y="2547">coins []cloudcoin.CloudCoin)</text>
<text x="2208" y="2556">(*BreakOutput,error)</text>
</g>
</g>
<g id="raida-break-struct"><rect class="n fa" x="2387" y="2396" width="46" height="35" rx="1.5"/><text class="hs" x="2410" y="2403">Break struct</text><path class="dv" d="M2387,2408 H2433"/><text class="t" x="2391" y="2420">Servant</text></g>
<g id="raida-breakoutput-struct"><rect class="n fa" x="2380" y="2480" width="76" height="30" rx="1.5"/><text class="hs" x="2418" y="2488">BreakOutput struct</text><path class="dv" d="M2380,2493 H2456"/></g>

<g id="raida-breakinbank-go">
<rect class="n fa" x="2211" y="2646" width="122" height="136" rx="1.5"/>
<text class="hs" x="2272" y="2655">BreakInBank.go</text>
<g class="t">
<text x="2216" y="2667" font-weight="bold">BreakInBank struct</text>
<text x="2216" y="2683">BreakInBankOutput struct</text>
<text x="2216" y="2698">func <tspan class="tb">NewBreakInBank</tspan></text>
<text x="2216" y="2706">(progressChannelchan</text>
<text x="2216" y="2714">interface{})*BreakInBank</text>
<text x="2216" y="2729">func (v</text>
<text x="2216" y="2737">*BreakInBank)<tspan class="tb">BreakInBank</tspan>(ctx</text>
<text x="2216" y="2745">context.Context, ownerCC</text>
<text x="2216" y="2753">*cloudcoin.CloudCoin,</text>
<text x="2216" y="2761">snToBreakuint32, sns []uint32)</text>
<text x="2216" y="2769">(*BreakInBankOutput,error)</text>
</g>
</g>
<g id="raida-breakinbank-struct"><rect class="n fa" x="2366" y="2619" width="69" height="42" rx="1.5"/><text class="hs" x="2400.5" y="2628">BreakInBank struct</text><text class="t" x="2370" y="2649">Servant</text></g>
<g id="raida-breakinbankoutput-struct"><rect class="n fa" x="2368" y="2708" width="88" height="38" rx="1.5"/><text class="hs" x="2412" y="2716">BreakInBankOutput struct</text></g>

<g id="raida-claim-go">
<rect class="n fa" x="2195" y="2853" width="138" height="124" rx="1.5"/>
<text class="hf" x="2264" y="2862">claim.go</text>
<path class="dv" d="M2195,2869 H2333 M2195,2916 H2333"/>
<g class="t">
<text x="2201" y="2878">Claim struct</text>
<text x="2201" y="2894">ClaimOutput struct</text>
<text x="2201" y="2909">ClaimResponse struct</text>
<text x="2201" y="2923">func NewClaim(progressChannelchan</text>
<text x="2201" y="2931">interface{})*Claim</text>
<text x="2201" y="2947">func (v *Claim)ProcessClaim(ctx</text>
<text x="2201" y="2955">context.Context, response</text>
<text x="2201" y="2963">[]UpgradeResponse) (*ClaimOutput,error)</text>
</g>
</g>
<g id="raida-claim-struct"><rect class="n fa" x="2377" y="2823" width="53" height="38" rx="1.5"/><text class="hs" x="2403.5" y="2831">Claim struct</text><text class="t" x="2381" y="2845">Servant</text><text class="t" x="2381" y="2853">NumCoins int</text></g>
<g id="raida-claimoutput-struct"><rect class="n fa" x="2387" y="2879" width="99" height="51" rx="1.5"/><text class="hs" x="2436.5" y="2887">ClaimOutput struct</text><text class="t" x="2391" y="2905">Coins <tspan class="tb">[]cloudcoin.CloudCoin</tspan></text><text class="t" x="2391" y="2912">CoinsConverted int</text><text class="t" x="2391" y="2920">CoinsFailed int</text></g>
<g id="raida-claimresponse-struct"><rect class="n fa" x="2369" y="2959" width="76" height="44" rx="1.5"/><text class="hs" x="2407" y="2967">ClaimResponse struct</text><path class="dv" d="M2369,2973 H2445"/><text class="t" x="2373" y="2985">Ticket []byte</text><text class="t" x="2373" y="2993">Sns []uint32</text></g>

<g id="raida-sync-go">
<rect class="n fa" x="2601" y="2181" width="137" height="240" rx="1.5"/>
<text class="hf" x="2669.5" y="2188" font-size="6.4">Sync.go</text>
<path class="dv" d="M2601,2194 H2738 M2601,2248 H2738"/>
<g class="t">
<text x="2606" y="2206">Sync <tspan class="tb">struct</tspan></text>
<text x="2606" y="2222">SyncOutput <tspan class="tb">struct</tspan></text>
<text x="2606" y="2238">SyncResult <tspan class="tb">struct</tspan></text>
<text x="2606" y="2260">func <tspan class="tb">NewSync</tspan>(progressChannelchan</text>
<text x="2606" y="2268">interface{})*Sync</text>
<text x="2606" y="2284">func (v *Sync)<tspan class="tb">GetStrideSize</tspan>()int</text>
<text x="2606" y="2300">func (v *Sync)<tspan class="tb">Sync</tspan>(ctx context.Context,</text>
<text x="2606" y="2308">ridxint, ownerCC cloudcoin.CloudCoin,</text>
<text x="2606" y="2316">coins []cloudcoin.CloudCoin, addbool)</text>
<text x="2606" y="2324">(*SyncOutput,error)</text>
<text x="2606" y="2340">func (v *Sync)<tspan class="tb">ProcessSync</tspan>(ctx</text>
<text x="2606" y="2348">context.Context, ridxint, ownerCC</text>
<text x="2606" y="2356">cloudcoin.CloudCoin, ccs</text>
<text x="2606" y="2364">[]cloudcoin.CloudCoin, addbool)</text>
<text x="2606" y="2372">(*SyncResult,error)</text>
<text x="2606" y="2388">func (v *Sync)<tspan class="tb">SyncSuccessFunction</tspan>(ctx</text>
<text x="2606" y="2396">context.Context, idxint, statusint, coins</text>
<text x="2606" y="2404">[]cloudcoin.CloudCoin, rdata []byte)</text>
<text x="2606" y="2412">(int,interface{})</text>
</g>
</g>
<g id="raida-sync-struct"><rect class="n fa" x="2784" y="2154" width="54" height="27" rx="1.5"/><text class="hs" x="2811" y="2161">Sync struct</text><text class="t" x="2788" y="2175">Servant</text></g>
<g id="raida-syncoutput-struct"><rect class="n fa" x="2838" y="2204" width="65" height="29" rx="1.5"/><text class="hs" x="2870.5" y="2211">SyncOutput struct</text><path class="dv" d="M2838,2217 H2903"/><text class="t" x="2842" y="2226">Details [][]string</text></g>
<g id="raida-syncresult-struct"><rect class="n fa" x="2784" y="2256" width="65" height="29" rx="1.5"/><text class="hs" x="2816.5" y="2263">SyncOutput struct</text><path class="dv" d="M2784,2269 H2849"/><text class="t" x="2788" y="2278">Details [][]string</text></g>

<g id="raida-showstatement-go">
<rect class="n fa" x="2586" y="2510" width="138" height="192" rx="1.5"/>
<text class="hs" x="2655" y="2517">ShowStatement.go</text>
<path class="dv" d="M2586,2577 H2724"/>
<g class="t">
<text x="2590" y="2535">ShowStatement <tspan class="tb">struct</tspan></text>
<text x="2590" y="2551">ShowStatementOutput <tspan class="tb">struct</tspan></text>
<text x="2590" y="2567">ShowStatementItem <tspan class="tb">struct</tspan></text>
<text x="2590" y="2590">func</text>
<text x="2590" y="2597"><tspan class="tb">NewShowStatement</tspan>(progressChannelchan</text>
<text x="2590" y="2605">interface{})*ShowStatement</text>
<text x="2590" y="2621">func (v</text>
<text x="2590" y="2628">*ShowStatement)<tspan class="tb">ShowStatement</tspan>(ctx</text>
<text x="2590" y="2637">context.Context, cc *cloudcoin.CloudCoin)</text>
<text x="2590" y="2645">(*ShowStatementOutput,error)</text>
<text x="2590" y="2661">func (v</text>
<text x="2590" y="2669">*Servant)<tspan class="tb">StatementSuccessFunction</tspan>(ctx</text>
<text x="2590" y="2676">context.Context, idxint, statusint, coins</text>
<text x="2590" y="2685">[]cloudcoin.CloudCoin, rdata []byte)</text>
<text x="2590" y="2692">(int,interface{})</text>
</g>
</g>
<g id="raida-showstatement-struct"><rect class="n fa" x="2761" y="2464" width="65" height="37" rx="1.5"/><text class="hs" x="2793.5" y="2472">ShowStatement</text><text class="hs" x="2793.5" y="2479">struct</text><path class="dv" d="M2761,2485 H2826"/><text class="t" x="2765" y="2494">Servant</text></g>
<g id="raida-showstatementoutput-struct"><rect class="n fa" x="2796" y="2529" width="92" height="36" rx="1.5"/><text class="hs" x="2842" y="2538">ShowStatementOutput</text><text class="hs" x="2842" y="2545">struct</text><path class="dv" d="M2796,2550 H2888"/><text class="t" x="2800" y="2560">Items []ShowStatementItem</text></g>
<g id="raida-showstatementitem-struct"><rect class="n fa" x="2761" y="2579" width="77" height="95" rx="1.5"/><text class="hs" x="2799.5" y="2586">ShowStatementItem</text><text class="hs" x="2799.5" y="2594">struct</text>
<g class="t"><text x="2765" y="2610">Guid string</text><text x="2765" y="2618">Transactiontype int</text><text x="2765" y="2626">Amount int</text><text x="2765" y="2634">Balance int</text><text x="2765" y="2642">TimeStamp time.Time</text><text x="2765" y="2650">MemoRAIDType int</text><text x="2765" y="2658">Memo string</text><text x="2765" y="2666">Owner Uint32</text></g></g>

<g id="raida-showchange-go">
<rect class="n fa" x="2613" y="2793" width="125" height="123" rx="1.5"/>
<text class="hf" x="2675.5" y="2801.5" font-size="7.5">showchange.go</text>
<path class="dv" d="M2613,2808 H2738 M2613,2839 H2738"/>
<g class="t">
<text x="2617" y="2817">ShowChange struct</text>
<text x="2617" y="2832">ShowChangeOutput struct</text>
<text x="2617" y="2847">func <tspan class="tb">NewShowChange</tspan></text>
<text x="2617" y="2855">(progressChannelchan</text>
<text x="2617" y="2863">interface{})*ShowChange</text>
<text x="2617" y="2878">func (v</text>
<text x="2617" y="2886">*ShowChange)<tspan class="tb">ShowChange</tspan>(ctx</text>
<text x="2617" y="2894">context.Context, denominationint)</text>
<text x="2617" y="2903">(*ShowChangeOutput,error)</text>
</g>
</g>
<g id="raida-showchange-struct"><rect class="n fa" x="2776" y="2769" width="77" height="37" rx="1.5"/><text class="hs" x="2814.5" y="2778">ShowChange struct</text><text class="t" x="2780" y="2795">Servant</text></g>
<g id="raida-showchangeoutput-struct"><rect class="n fa" x="2776" y="2838" width="100" height="45" rx="1.5"/><text class="hs" x="2826" y="2846">ShowChangeOutput struct</text><text class="t" x="2780" y="2868">SerialNumbers []uint32</text></g>

<g id="raida-showcoinsbydenomination-go">
<rect class="n fa" x="2798" y="2968" width="145" height="336" rx="1.5"/>
<text class="hs" x="2870.5" y="2976">ShowCoinsByDenomination.go</text>
<g class="t">
<text x="2803" y="2994">ShowCoinsByDenomination struct</text>
<text x="2803" y="3010">ShowCoinsByDenominationOutput struct</text>
<text x="2803" y="3025">ShowCoinsByDenominationRawOutput struct</text>
<text x="2803" y="3049">func <tspan class="tb">NewShowCoinsByDenomination</tspan></text>
<text x="2803" y="3056">(progressChannelchan</text>
<text x="2803" y="3064">interface{})*ShowCoinsByDenomination</text>
<text x="2803" y="3080">func (v *ShowCoinsByDenomination)</text>
<text x="2803" y="3088"><tspan class="tb">ShowCoinsByDenominationRaw</tspan>(ctx</text>
<text x="2803" y="3096">context.Context, cc *cloudcoin.CloudCoin,</text>
<text x="2803" y="3104">denint)</text>
<text x="2803" y="3112">(*ShowCoinsByDenominationRawOutput,error)</text>
<text x="2803" y="3128">func (v *ShowCoinsByDenomination)</text>
<text x="2803" y="3136"><tspan class="tb">ShowCoinsByDenomination</tspan>(ctx</text>
<text x="2803" y="3143">context.Context, cc *cloudcoin.CloudCoin,</text>
<text x="2803" y="3152">denint)</text>
<text x="2803" y="3159">(*ShowCoinsByDenominationOutput,error)</text>
<text x="2803" y="3176">func (v *ShowCoinsByDenomination)</text>
<text x="2803" y="3183"><tspan class="tb">ShowCoinsByDenominationPage</tspan>(ctx</text>
<text x="2803" y="3191">context.Context, cc *cloudcoin.CloudCoin,</text>
<text x="2803" y="3200">page int, denint)</text>
<text x="2803" y="3207">(*ShowCoinsByDenominationOutput,error)</text>
<text x="2803" y="3224">func (v *ShowCoinsByDenomination)</text>
<text x="2803" y="3231"><tspan class="tb">ShowCoinsByDenominationPageRaw</tspan>(ctx</text>
<text x="2803" y="3239">context.Context, cc *cloudcoin.CloudCoin,</text>
<text x="2803" y="3247">page int, denint)</text>
<text x="2803" y="3255">(*ShowCoinsByDenominationRawOutput,error)</text>
<text x="2803" y="3271">func (v *Servant)<tspan class="tb">SCBDSuccessFunction</tspan>(ctx</text>
<text x="2803" y="3279">context.Context, idxint, statusint, coins</text>
<text x="2803" y="3287">[]cloudcoin.CloudCoin, rdata []byte)</text>
<text x="2803" y="3294">(int,interface{})</text>
</g>
</g>
<g id="raida-scbd-struct"><rect class="n fa" x="2998" y="2930" width="84" height="38" rx="1.5"/><text class="hs" x="3040" y="2938" font-weight="normal">ShowCoinsByDenomination</text><text class="hs" x="3040" y="2946">struct</text><text class="t" x="3002" y="2961">Servant</text></g>
<g id="raida-scbdoutput-struct"><rect class="n fa" x="3029" y="2991" width="115" height="38" rx="1.5"/><text class="hs" x="3086.5" y="2998" font-weight="normal">ShowCoinsByDenominationOutput</text><text class="hs" x="3086.5" y="3006">struct</text><path class="dv" d="M3029,3010 H3144"/><text class="t" x="3033" y="3022">SerialNumbers []uint32</text></g>
<g id="raida-scbdrawoutput-struct"><rect class="n fa" x="2995" y="3083" width="136" height="38" rx="1.5"/><text class="hs" x="3063" y="3090" font-weight="normal">ShowCoinsByDenominationRawOutput</text><text class="hs" x="3063" y="3099">struct</text><path class="dv" d="M2995,3102 H3131"/><text class="t" x="2999" y="3113">SerialNumbers map[uint32][]int</text></g>

<g id="raida-withdraw-go">
<rect class="n fa" x="3021" y="2445" width="138" height="201" rx="1.5"/>
<text class="hf" x="3090" y="2452" font-size="6.4">Withdraw.go</text>
<path class="dv" d="M3021,2496 H3159"/>
<g class="t">
<text x="3025" y="2470">type Withdraw <tspan class="tb">struct</tspan></text>
<text x="3025" y="2486">WithdrawOutput <tspan class="tb">struct</tspan></text>
<text x="3025" y="2509">func <tspan class="tb">NewWithdraw</tspan>(progressChannelchan</text>
<text x="3025" y="2516">interface{})*Withdraw</text>
<text x="3025" y="2532">func (v *Withdraw)<tspan class="tb">GetStrideSize</tspan>()int</text>
<text x="3025" y="2548">func (v *Withdraw)<tspan class="tb">Withdraw</tspan>(ctx</text>
<text x="3025" y="2556">context.Context, ownerCC</text>
<text x="3025" y="2564">*cloudcoin.CloudCoin, coins</text>
<text x="3025" y="2572">[]cloudcoin.CloudCoin, receiptIDstring,</text>
<text x="3025" y="2580">memostring) (*WithdrawOutput,error)</text>
<text x="3025" y="2596">func (v *Withdraw)<tspan class="tb">ProcessWithdraw</tspan>(ctx</text>
<text x="3025" y="2604">context.Context, ownerCC</text>
<text x="3025" y="2612">*cloudcoin.CloudCoin, coins</text>
<text x="3025" y="2619">[]cloudcoin.CloudCoin, receiptID []byte,</text>
<text x="3025" y="2628">sns []byte, memos []string, pgs []string)</text>
<text x="3025" y="2635">(*WithdrawOutput,error)</text>
</g>
</g>
<g id="raida-withdraw-struct"><rect class="n fa" x="3202" y="2403" width="61" height="30" rx="1.5"/><text class="hs" x="3232.5" y="2410">Withdraw struct</text><text class="t" x="3206" y="2426">Servant</text></g>
<g id="raida-withdrawoutput-struct"><rect class="n fa" x="3199" y="2487" width="68" height="90" rx="1.5"/><text class="hs" x="3233" y="2494">WithdrawOutput</text><text class="hs" x="3233" y="2502">struct</text>
<g class="t"><text x="3203" y="2516">TotalCoins int</text><text x="3203" y="2524">TotalAuthentic int</text><text x="3203" y="2531">TotalFracked int</text><text x="3203" y="2540">TotalLimbo int</text><text x="3203" y="2547">TotalCounterfeit int</text><text x="3203" y="2556">TotalUnknown int</text><text x="3203" y="2563">Coins []CoinOutput</text><text x="3203" y="2572">Details [][]string</text></g></g>

<g id="raida-servant-go">
<rect class="n fa" x="3481" y="2394" width="137" height="1460" rx="1.5"/>
<text class="hf" x="3549.5" y="2403">servant.go</text>
<path class="dv" d="M3481,2411 H3618 M3481,2512 H3618"/>
<g class="t">
<text x="3485" y="2422">CoinOutput <tspan class="tb">struct</tspan></text>
<text x="3485" y="2438">Servant <tspan class="tb">struct</tspan></text>
<text x="3485" y="2454">Error <tspan class="tb">struct</tspan></text>
<text x="3485" y="2470">MemoObj <tspan class="tb">struct</tspan></text>
<text x="3485" y="2486">PairString <tspan class="tb">struct</tspan></text>
<text x="3485" y="2502">Pair <tspan class="tb">struct</tspan></text>
<text x="3485" y="2524">func <tspan class="tb">NewServant</tspan>(progressChannelchan</text>
<text x="3485" y="2532">interface{})*Servant</text>
<text x="3485" y="2548">func (s *Servant)</text>
<text x="3485" y="2556"><tspan class="tb">SetPrivateActiveRaidaList</tspan>(list *[]string)</text>
<text x="3485" y="2572">func (s *Servant)<tspan class="tb">SetVersion</tspan>(headerBytes</text>
<text x="3485" y="2580">[]byte, versionint)</text>
<text x="3485" y="2596">func (s *Servant)</text>
<text x="3485" y="2604"><tspan class="tb">GetHeader</tspan>(commandint16, ridxint, ccs</text>
<text x="3485" y="2612">*cloudcoin.CloudCoin) []byte</text>
<text x="3485" y="2628">func (s *Servant)</text>
<text x="3485" y="2636"><tspan class="tb">GetHeaderSky</tspan>(commanduint16, ridxint,</text>
<text x="3485" y="2644">ccs *cloudcoin.CloudCoin) []byte</text>
<text x="3485" y="2660">func (s *Servant)</text>
<text x="3485" y="2668"><tspan class="tb">GetHeaderChat</tspan>(commanduint16, ridxint,</text>
<text x="3485" y="2676">ccs *cloudcoin.CloudCoin) []byte</text>
<text x="3485" y="2692">func (s *Servant)</text>
<text x="3485" y="2700"><tspan class="tb">GetHeaderCommon</tspan>(commanduint16,</text>
<text x="3485" y="2708">coinIDTypeint, ccs *cloudcoin.CloudCoin,</text>
<text x="3485" y="2716">ridxint) []byte</text>
<text x="3485" y="2732">func (s *Servant)</text>
<text x="3485" y="2739"><tspan class="tb">UpdateHeaderUdpPackets</tspan>(params</text>
<text x="3485" y="2748">[][]byte)</text>
<text x="3485" y="2764">func (s *Servant)<tspan class="tb">EncryptIfRequired</tspan>(ctx</text>
<text x="3485" y="2771">context.Context, ccs *cloudcoin.CloudCoin,</text>
<text x="3485" y="2780">ridxint, data []byte) ([]byte,error)</text>
<text x="3485" y="2796">func (s *Servant)<tspan class="tb">GetEncryptionCoin</tspan>(ctx</text>
<text x="3485" y="2803">context.Context)</text>
<text x="3485" y="2811">(*cloudcoin.CloudCoin,error)</text>
<text x="3485" y="2827">func (s *Servant)<tspan class="tb">GetChallenge</tspan>() []byte</text>
<text x="3485" y="2843">func (s *Servant)<tspan class="tb">GetSignature</tspan>() []byte</text>
<text x="3485" y="2859">func (s</text>
<text x="3485" y="2867" font-weight="bold">*Servant)GetPownStringFromStatusArray</text>
<text x="3485" y="2875">(statuses []int)string</text>
<text x="3485" y="2891">func (s</text>
<text x="3485" y="2899">*Servant)<tspan class="tb">IsQuorumCollected</tspan>(statuses</text>
<text x="3485" y="2907">[]int)bool</text>
<text x="3485" y="2923">func (s *Servant)<tspan class="tb">SetCoinsStatus</tspan>(coins</text>
<text x="3485" y="2931">[]cloudcoin.CloudCoin, ridxint, statusint)</text>
<text x="3485" y="2947"><tspan class="tb">BatchFunc</tspan> func(context.Context,</text>
<text x="3485" y="2954">[]cloudcoin.CloudCoin) error</text>
<text x="3485" y="2970"><tspan class="tb">SuccessFunc</tspan> func(context.Context,int,int,</text>
<text x="3485" y="2978">[]cloudcoin.CloudCoin,</text>
<text x="3485" y="2986">[]byte)(int,interface{})</text>
<text x="3485" y="3002">func (s</text>
<text x="3485" y="3010">*Servant)<tspan class="tb">SetBatchFunction</tspan>(batchFunction</text>
<text x="3485" y="3018">BatchFunc)</text>
<text x="3485" y="3033">func (s</text>
<text x="3485" y="3042">*Servant)<tspan class="tb">CommonMixedSuccessFunction</tspan></text>
<text x="3485" y="3049">(ctx context.Context, idxint, statusint, coins</text>
<text x="3485" y="3057">[]cloudcoin.CloudCoin, rdata []byte)</text>
<text x="3485" y="3065">(int,interface{})</text>
<text x="3485" y="3081">func (v</text>
<text x="3485" y="3089">*Servant)<tspan class="tb">CommonSuccessFunction</tspan>(ctx</text>
<text x="3485" y="3097">context.Context, idxint, statusint, coins</text>
<text x="3485" y="3104">[]cloudcoin.CloudCoin, rdata []byte)</text>
<text x="3485" y="3113">(int,interface{})</text>
<text x="3485" y="3129">func (s</text>
<text x="3485" y="3137">*Servant)<tspan class="tb">ProcessGenericResponses</tspan>(ctx</text>
<text x="3485" y="3145">context.Context, ccs</text>
<text x="3485" y="3152">*cloudcoin.CloudCoin, results []Result,</text>
<text x="3485" y="3161">successFunc SuccessFunc) ([]int,</text>
<text x="3485" y="3169">[]interface{})</text>
<text x="3485" y="3185">func (s *Servant)</text>
<text x="3485" y="3193"><tspan class="tb">ProcessGenericResponsesIgnoreUntried</tspan></text>
<text x="3485" y="3200">(ctx context.Context,</text>
<text x="3485" y="3208">ccs []cloudcoin.CloudCoin, results []Result,</text>
<text x="3485" y="3217">successFunc SuccessFunc, ccs</text>
<text x="3485" y="3224">*cloudcoin.CloudCoin) ([]int, []interface{})</text>
<text x="3485" y="3240">func (s *Servant)</text>
<text x="3485" y="3248"><tspan class="tb">ProcessGenericResponsesCommon</tspan>(ctx</text>
<text x="3485" y="3256">context.Context, ccs</text>
<text x="3485" y="3264">[]cloudcoin.CloudCoin, results []Result,</text>
<text x="3485" y="3272">successFunc SuccessFunc, ccs</text>
<text x="3485" y="3279">*cloudcoin.CloudCoin) ([]int, []interface{})</text>
<text x="3485" y="3296">func (s *Servant)</text>
<text x="3485" y="3304"><tspan class="tb">ProcessGenericResponsesCommonB</tspan></text>
<text x="3485" y="3312">(ctx context.Context, ccs</text>
<text x="3485" y="3320">[]cloudcoin.CloudCoin, results []Result,</text>
<text x="3485" y="3328">successFunc SuccessFunc, ccs</text>
<text x="3485" y="3336">*cloudcoin.CloudCoin, ignoreUntriedbool)</text>
<text x="3485" y="3344">([]int, []interface{})</text>
<text x="3485" y="3360">func (s *Servant)</text>
<text x="3485" y="3368"><tspan class="tb">ReadMixedResultsAndUpdateCoins</tspan>(ctx</text>
<text x="3485" y="3375">context.Context, ccs</text>
<text x="3485" y="3384">[]cloudcoin.CloudCoin, data []byte) int</text>
<text x="3485" y="3399">func (s</text>
<text x="3485" y="3407">*Servant)<tspan class="tb">GetErrorsFromResults</tspan>(results</text>
<text x="3485" y="3415">[]Result) []string</text>
<text x="3485" y="3432">func (s</text>
<text x="3485" y="3439">*Servant)<tspan class="tb">GetProgramError</tspan>(errcint)</text>
<text x="3485" y="3447">string</text>
<text x="3485" y="3463">func (s *Servant)</text>
<text x="3485" y="3471"><tspan class="tb">GetMessageFromStripesAndMirrors</tspan>(ctx</text>
<text x="3485" y="3479">context.Context, data [][]byte) ([]byte,error)</text>
<text x="3485" y="3495">func (s *Servant)</text>
<text x="3485" y="3503"><tspan class="tb">GetStripesAndMirrorsWithSender</tspan></text>
<text x="3485" y="3511">(messagestring, senderint) [][]string</text>
<text x="3485" y="3527">func (s *Servant)<tspan class="tb">GetStripesAndMirrors</tspan></text>
<text x="3485" y="3535">(messagestring) [][]string</text>
<text x="3485" y="3550">func (s *Servant)<tspan class="tb">AssembleMessage</tspan>(ctx</text>
<text x="3485" y="3558">context.Context, parts [][]string)</text>
<text x="3485" y="3566">(string,error)</text>
<text x="3485" y="3583">func (s *Servant)<tspan class="tb">SplitMessage</tspan></text>
<text x="3485" y="3590">(messagestring) [][]string</text>
<text x="3485" y="3606">func (s *Servant)<tspan class="tb">GetRanges</tspan>(ctx</text>
<text x="3485" y="3614">context.Context, ccs</text>
<text x="3485" y="3622">[]cloudcoin.CloudCoin) [][]int, []int</text>
<text x="3485" y="3638">func (s *Servant)</text>
<text x="3485" y="3646"><tspan class="tb">GetSNsAndMaxValue</tspan>(ctx</text>
<text x="3485" y="3654">context.Context, ccs</text>
<text x="3485" y="3662">[]cloudcoin.CloudCoin) [][]int, []int, []bool)</text>
<text x="3485" y="3677">func PickUpKeys(ctx context.Context,</text>
<text x="3485" y="3685">commonmap[string]int) ([]string,error)</text>
<text x="3485" y="3701">func sortByCount</text>
<text x="3485" y="3709">(countsmap[int]int)PairList</text>
<text x="3485" y="3725">func sortByCountString</text>
<text x="3485" y="3733">(countsmap[string]int)PairStringList</text>
<text x="3485" y="3749">PairStringList []PairString</text>
<text x="3485" y="3765">func (p PairStringList)Len() int</text>
<text x="3485" y="3780">func (p PairStringList)Less(i, j int) bool</text>
<text x="3485" y="3796">func (p PairStringList)Swap(i, j int)</text>
<text x="3485" y="3812">func (p PairList)Len() int</text>
<text x="3485" y="3828">func (p PairList)Less(i, j int) bool</text>
<text x="3485" y="3844">func (p PairList)Swap(i, j int)</text>
</g>
</g>
<g id="raida-coinoutput-struct"><rect class="n fa" x="3740" y="2302" width="61" height="54" rx="1.5"/><text class="hs" x="3770.5" y="2310" font-weight="normal">CoinOutput <tspan font-weight="bold">struct</tspan></text><text class="t" x="3744" y="2329">Sn uint32</text><text class="t" x="3744" y="2336">PownString string</text><text class="t" x="3744" y="2344">Result string</text></g>
<g id="raida-servant-struct"><rect class="n fa" x="3763" y="2372" width="115" height="64" rx="1.5"/><text class="hs" x="3820.5" y="2380">Servant struct</text><path class="dv" d="M3763,2386 H3878"/><text class="t" x="3767" y="2399">Raida       *RAIDA</text><text class="t" x="3767" y="2408">repairArray [][]int</text><text class="t" x="3767" y="2415">progressChannel chan interface{}</text><text class="t" x="3767" y="2423">batchFunction BatchFunc</text></g>
<g id="raida-error-struct"><rect class="n fa" x="3763" y="2448" width="59" height="28" rx="1.5"/><text class="hs" x="3792.5" y="2456">Error struct</text><path class="dv" d="M3763,2462 H3822"/><text class="t" x="3767" y="2470">Message <tspan class="tb">string</tspan></text></g>
<g id="raida-memoobj-struct"><rect class="n fa" x="3756" y="2493" width="84" height="36" rx="1.5"/><text class="hs" x="3798" y="2502">MemoObj struct</text><path class="dv" d="M3756,2507 H3840"/><text class="t" x="3760" y="2516">Memo string</text><text class="t" x="3760" y="2524">SenderAddress string</text></g>
<g id="raida-pairstring-struct"><rect class="n fa" x="3733" y="2556" width="60" height="37" rx="1.5"/><text class="hs" x="3763" y="2563">PairString struct</text><text class="t" x="3737" y="2577">Key   <tspan class="tb">string</tspan></text><text class="t" x="3737" y="2586">Value int</text></g>
<g id="raida-pair-struct"><rect class="n fa" x="3687" y="2636" width="45" height="37" rx="1.5"/><text class="hs" x="3709.5" y="2644">Pair struct</text><text class="t" x="3691" y="2658">Key    int</text><text class="t" x="3691" y="2667">Value int</text></g>

<g id="raida-response-const">
<rect class="n fa" x="2158" y="3037" width="198" height="220" rx="1.5"/>
<text class="hs" x="2257" y="3045">const</text>
<g class="t">
<text x="2163" y="3059">RESPONSE_STATUS_INVALID_FRAME_COUNT = 0xF</text>
<text x="2163" y="3067.5">RESPONSE_STATUS_ORDER_OR_LOSE = 0x1F</text>
<text x="2163" y="3076">RESPONSE_STATUS_INVALID_END_COMMAND = 0x21</text>
<text x="2163" y="3084.5">RESPONSE_STATUS_SERVER_ENCRYPTION = 0x22</text>
<text x="2163" y="3093">RESPONSE_STATUS_INVALID_LENGTH = 0x20</text>
<text x="2163" y="3101.5">RESPONSE_STATUS_INVALID_COMMAND = 0x28</text>
<text x="2163" y="3110">RESPONSE_STATUS_INVALID_RAIDA = 0x13</text>
<text x="2163" y="3118.5">RESPONSE_STATUS_ALL_PASS = 0xF1</text>
<text x="2163" y="3127">RESPONSE_STATUS_ALL_FAIL = 0xF2</text>
<text x="2163" y="3135.5">RESPONSE_STATUS_MIX = 0xF3</text>
<text x="2163" y="3144">RESPONSE_STATUS_ECHO_SUCCESS = 0x25</text>
<text x="2163" y="3152.5">RESPONSE_STATUS_SUCCESS = 0xFA</text>
<text x="2163" y="3161">RESPONSE_STATUS_FAIL = 0xFB</text>
<text x="2163" y="3169.5">RESPONSE_STATUS_WARNING = 0xD1</text>
<text x="2163" y="3178">RESPONSE_STATUS_PAGE_NOT_FOUND = 0xFD</text>
<text x="2163" y="3186.5">RESPONSE_STATUS_NO_STATEMENTS = 0x78</text>
<text x="2163" y="3195">RESPONSE_STATUS_STATEMENTS_DELETED = 0x79</text>
<text x="2163" y="3203.5">RESPONSE_STATUS_FIND_NONE = 0xD0</text>
<text x="2163" y="3212">RESPONSE_STATUS_FIND_AN = 0xD1</text>
<text x="2163" y="3220.5">RESPONSE_STATUS_FIND_PAN = 0xD2</text>
<text x="2163" y="3229">RESPONSE_STATUS_FIND_MIX = 0xD3</text>
<text x="2163" y="3237.5" font-weight="bold">RESPONSE_STATUS_CONVERT_CONTINUOUS = 0x35</text>
<text x="2163" y="3246" font-weight="bold">RESPONSE_STATUS_CONVERT_NON_CONTINUOUS = 0x36</text>
<text x="2163" y="3254.5">RESPONSE_STATUS_TICKET_NOT_FOUND = 0xF5</text>
</g>
</g>
<g id="raida-codes-go">
<rect class="n fa" x="2318" y="3297" width="138" height="93" rx="1.5"/>
<text class="hf" x="2387" y="3306">codes.go</text>
<g class="t">
<text x="2323" y="3325">const</text>
<text x="2323" y="3333">const</text>
<text x="2323" y="3342">var CommandNames</text>
<text x="2323" y="3364">func</text>
<text x="2323" y="3372">(*RAIDA)<tspan class="tb">GetCommandName</tspan>(codeuint16)</text>
<text x="2323" y="3380">(string,bool)</text>
</g>
</g>
<g id="raida-command-const">
<rect class="n fa" x="2492" y="3060" width="175" height="274" rx="1.5"/>
<text class="hs" x="2579.5" y="3068">const</text>
<g class="t">
<text x="2496" y="3082">COMMAND_POWN = 0x0</text>
<text x="2496" y="3090">COMMAND_DETECT = 0x1</text>
<text x="2496" y="3098">COMMAND_FIND = 0x2</text>
<text x="2496" y="3106">COMMAND_ECHO = 0x4</text>
<text x="2496" y="3114">COMMAND_SHOW_CHANGE = 0x74</text>
<text x="2496" y="3122">COMMAND_BREAK = 0x7A</text>
<text x="2496" y="3130">COMMAND_DEPOSIT = 0x64</text>
<text x="2496" y="3138">COMMAND_FREEDOM = 0x3E</text>
<text x="2496" y="3146">COMMAND_GETTICKET = 0x3B</text>
<text x="2496" y="3154">COMMAND_BALANCE = 0x6E</text>
<text x="2496" y="3162">COMMAND_SHOW_REGISTRY = 0x63</text>
<text x="2496" y="3170">COMMAND_FIX = 0x3</text>
<text x="2496" y="3178">COMMAND_VERSION = 0xF</text>
<text x="2496" y="3186">COMMAND_PANG = 0x13</text>
<text x="2496" y="3194">COMMAND_SHOW_STATEMENT = 0x82</text>
<text x="2496" y="3202">COMMAND_SHOW_PAYMENT = 0x84</text>
<text x="2496" y="3210">COMMAND_TRANSFER = 0x6C</text>
<text x="2496" y="3218">COMMAND_WITHDRAW = 0x68</text>
<text x="2496" y="3226">COMMAND_BREAK_IN_BANK = 0x7B</text>
<text x="2496" y="3234">COMMAND_SYNC_OWNER_ADD = 0x90</text>
<text x="2496" y="3242">COMMAND_SYNC_OWNER_DELETE = 0x91</text>
<text x="2496" y="3250">COMMAND_DELETE_ALL_STATEMENTS = 0x83</text>
<text x="2496" y="3258">COMMAND_SHOW_COINS_BY_DENOMINATION =</text>
<text x="2496" y="3266">0x72  COMMAND_IDX_V2 = 0x32</text>
<text x="2496" y="3274">COMMAND_ECHO_EXT = 0x23</text>
<text x="2496" y="3282">COMMAND_HASH_DETECT = 0x31</text>
<text x="2496" y="3290">COMMAND_HASH_PANG = 0x35</text>
<text x="2496" y="3298">COMMAND_UPGRADE = 0xD7</text>
<text x="2496" y="3306">COMMAND_CLAIM = 0xD8</text>
<text x="2496" y="3314">COMMAND_POST_MESSAGE = 0xA0</text>
<text x="2496" y="3322">COMMAND_POLL_MESSAGES = 0xA1</text>
<text x="2496" y="3330">COMMAND_GET_MESSAGES = 0xA2</text>
</g>
</g>
<g id="raida-commandnames">
<rect class="n fa" x="2486" y="3366" width="259" height="266" rx="1.5"/>
<text class="hs" x="2615.5" y="3375" font-weight="normal">var CommandNames</text>
<g class="t">
<text x="2491" y="3388">COMMAND_POWN:"pown",</text>
<text x="2491" y="3395.7">COMMAND_ECHO:"echo",</text>
<text x="2491" y="3403.4">COMMAND_DETECT:"detect",</text>
<text x="2491" y="3411.1">COMMAND_SHOW_CHANGE:"show_change",</text>
<text x="2491" y="3418.8">COMMAND_DEPOSIT:"deposit",</text>
<text x="2491" y="3426.5">COMMAND_BREAK:"break",</text>
<text x="2491" y="3434.2">COMMAND_FREEDOM:"freed",</text>
<text x="2491" y="3441.9">COMMAND_GETTICKET:"getticket",</text>
<text x="2491" y="3449.6">COMMAND_BALANCE:"balance",</text>
<text x="2491" y="3457.3">COMMAND_SHOW_REGISTRY:"show_registry",</text>
<text x="2491" y="3465">COMMAND_FIX:"fix",  COMMAND_VERSION:"version",</text>
<text x="2491" y="3472.7">COMMAND_SHOW_STATEMENT:"show_statement",</text>
<text x="2491" y="3480.4">COMMAND_SHOW_PAYMENT:"show_payment",</text>
<text x="2491" y="3488.1">COMMAND_TRANSFER:"transfer",</text>
<text x="2491" y="3495.8">COMMAND_WITHDRAW:"withdraw",</text>
<text x="2491" y="3503.5">COMMAND_BREAK_IN_BANK:"break_in_bank",</text>
<text x="2491" y="3511.2">COMMAND_SYNC_OWNER_ADD:"sync_owner_add",</text>
<text x="2491" y="3518.9">COMMAND_SYNC_OWNER_DELETE:"sync_owner_delete",</text>
<text x="2491" y="3526.6">COMMAND_DELETE_ALL_STATEMENTS:"delete_all_statements",</text>
<text x="2491" y="3534.3">COMMAND_SHOW_COINS_BY_DENOMINATION:"show_coins_by_denomination",</text>
<text x="2491" y="3542">COMMAND_IDX_V2:"idx2",</text>
<text x="2491" y="3549.7">COMMAND_PANG:"pang",</text>
<text x="2491" y="3557.4">COMMAND_UPGRADE:"upgrade",</text>
<text x="2491" y="3565.1">COMMAND_CLAIM:"claim",</text>
<text x="2491" y="3572.8">COMMAND_ECHO_EXT:"echoext",</text>
<text x="2491" y="3580.5">COMMAND_FIND:"find",</text>
<text x="2491" y="3588.2">COMMAND_HASH_DETECT:"hashdetect",</text>
<text x="2491" y="3595.9">COMMAND_HASH_PANG:"hashpang",</text>
<text x="2491" y="3603.6">COMMAND_POST_MESSAGE:"post_message",</text>
<text x="2491" y="3611.3">COMMAND_POLL_MESSAGES:"poll_messages",</text>
<text x="2491" y="3619">COMMAND_GET_MESSAGES:"get_messages",</text>
</g>
</g>

<g id="raida-showpayment-go">
<rect class="n fa" x="2945" y="3351" width="136" height="121" rx="1.5"/>
<text class="hs" x="3013" y="3358" font-weight="normal">ShowPayment.go</text>
<path class="dv" d="M2945,3402 H3081"/>
<g class="t">
<text x="2950" y="3376">ShowPayment struct</text>
<text x="2950" y="3392">ShowPaymentOutput struct</text>
<text x="2950" y="3414">func</text>
<text x="2950" y="3423"><tspan class="tb">NewShowPayment</tspan>(progressChannelchan</text>
<text x="2950" y="3430">interface{})*ShowPayment</text>
<text x="2950" y="3447">func (v *ShowPayment)<tspan class="tb">ShowPayment</tspan>(ctx</text>
<text x="2950" y="3454">context.Context, guidstring)</text>
<text x="2950" y="3462">(*ShowPaymentOutput,error)</text>
</g>
</g>
<g id="raida-showpayment-struct"><rect class="n fa" x="3120" y="3297" width="73" height="31" rx="1.5"/><text class="hs" x="3156.5" y="3305" font-weight="normal">ShowPayment struct</text><text class="t" x="3124" y="3320">Servant</text></g>
<g id="raida-showpaymentoutput-struct"><rect class="n fa" x="3120" y="3403" width="108" height="68" rx="1.5"/><text class="hs" x="3174" y="3412" font-weight="normal">ShowPaymentOutput struct</text><text class="t" x="3124" y="3445">Item ShowStatementItem</text></g>

<g id="raida-version-go">
<rect class="n fa" x="2891" y="3610" width="136" height="155" rx="1.5"/>
<text class="hs" x="2959" y="3618" font-weight="normal">Version.go</text>
<g class="t">
<text x="2896" y="3636">Version struct</text>
<text x="2896" y="3652">VersionOutput struct</text>
<text x="2896" y="3675">func NewVersion(progressChannelchan</text>
<text x="2896" y="3682">interface{})*Version</text>
<text x="2896" y="3698">func (v *Version)Version(ctx</text>
<text x="2896" y="3706">context.Context) (*VersionOutput,error)</text>
<text x="2896" y="3721">func (s *Servant)</text>
<text x="2896" y="3730">VersionSuccessFunction(ctx</text>
<text x="2896" y="3738">context.Context, idxint, statusint, coins</text>
<text x="2896" y="3745">[]cloudcoin.CloudCoin, rdata []byte)</text>
<text x="2896" y="3754">(int,interface{})</text>
</g>
</g>
<g id="raida-version-struct"><rect class="n fa" x="3067" y="3587" width="52" height="30" rx="1.5"/><text class="hs" x="3093" y="3594" font-weight="normal">Version struct</text><text class="t" x="3071" y="3610">Servant</text></g>
<g id="raida-versionoutput-struct"><rect class="n fa" x="3079" y="3660" width="52" height="31" rx="1.5"/><text class="hs" x="3105" y="3668" font-weight="normal">Version struct</text><path class="dv" d="M3079,3674 H3131"/><text class="t" x="3083" y="3684">Servant</text></g>

<g id="raida-transfer-go">
<rect class="n fa" x="2242" y="3695" width="137" height="209" rx="1.5"/>
<text class="hs" x="2310.5" y="3703" font-weight="normal">Transfer.go</text>
<path class="dv" d="M2242,3707 H2379"/>
<g class="t">
<text x="2247" y="3720">Transfer struct</text>
<text x="2247" y="3736">TransferOutput struct</text>
<text x="2247" y="3758">func NewTransfer(progressChannelchan</text>
<text x="2247" y="3765">interface{})*Transfer</text>
<text x="2247" y="3782">func (v *Transfer)GetStrideSize() int</text>
<text x="2247" y="3799">func (v *Transfer)Transfer(ctx</text>
<text x="2247" y="3806">context.Context, ownerCC</text>
<text x="2247" y="3814">*cloudcoin.CloudCoin, coins</text>
<text x="2247" y="3822">[]cloudcoin.CloudCoin, touint32,</text>
<text x="2247" y="3830">receiptIDstring, memostring)</text>
<text x="2247" y="3838">(*TransferOutput,error)</text>
<text x="2247" y="3854">func (v *Transfer)ProcessTransfer(ctx</text>
<text x="2247" y="3862">context.Context, ownerCC</text>
<text x="2247" y="3870">cloudcoin.CloudCoin, coins</text>
<text x="2247" y="3878">[]cloudcoin.CloudCoin, touint32, receiptID</text>
<text x="2247" y="3886">[]byte, sns []byte, memos []string)</text>
<text x="2247" y="3894">(*TransferOutput,error)</text>
</g>
</g>
<g id="raida-transfer-struct"><rect class="n fa" x="2426" y="3687" width="52" height="36" rx="1.5"/><text class="hs" x="2452" y="3695" font-weight="normal">Transfer struct</text><text class="t" x="2430" y="3713">Servant</text></g>
<g id="raida-transferoutput-struct"><rect class="n fa" x="2418" y="3749" width="68" height="90" rx="1.5"/><text class="hs" x="2452" y="3756" font-weight="normal">TransferOutput</text><text class="hs" x="2452" y="3764" font-weight="normal">struct</text>
<g class="t"><text x="2422" y="3778">TotalCoins int</text><text x="2422" y="3786">TotalAuthentic int</text><text x="2422" y="3794">TotalFracked int</text><text x="2422" y="3802">TotalLimbo int</text><text x="2422" y="3810">TotalCounterfeit int</text><text x="2422" y="3818">TotalUnknown int</text><text x="2422" y="3826">Coins []CoinOutput</text><text x="2422" y="3834">Details [][]string</text></g></g>

<g id="raida-showregistry-go">
<rect class="n fa" x="2549" y="3779" width="136" height="177" rx="1.5"/>
<text class="hs" x="2617" y="3787" font-weight="normal">ShowRegistry.go</text>
<g class="t">
<text x="2553" y="3804">ShowRegistry struct</text>
<text x="2553" y="3821">ShowRegistryOutput struct</text>
<text x="2553" y="3837">ShowRegistryRawOutput struct</text>
<text x="2553" y="3859">func</text>
<text x="2553" y="3867"><tspan class="tb">NewShowRegistry</tspan>(progressChannelchan</text>
<text x="2553" y="3875">interface{})*ShowRegistry</text>
<text x="2553" y="3891">func</text>
<text x="2553" y="3899"><tspan class="tb">NewShowRegistry</tspan>(progressChannelchan</text>
<text x="2553" y="3907">interface{})*ShowRegistry</text>
<text x="2553" y="3923">func (v</text>
<text x="2553" y="3931">*ShowRegistry)<tspan class="tb">ShowRegistryRaw</tspan>(ctx</text>
<text x="2553" y="3939">context.Context, cc *cloudcoin.CloudCoin)</text>
<text x="2553" y="3947">(*ShowRegistryRawOutput,error)</text>
</g>
</g>
<g id="raida-showregistry-struct"><rect class="n fa" x="2723" y="3734" width="47" height="34" rx="1.5"/><text class="hs" x="2746.5" y="3741" font-weight="normal">ShowRegistry</text><text class="hs" x="2746.5" y="3749" font-weight="normal">struct</text><text class="t" x="2727" y="3763">Servant</text></g>
<g id="raida-showregistryoutput-struct"><rect class="n fa" x="2739" y="3802" width="75" height="35" rx="1.5"/><text class="hs" x="2776.5" y="3810" font-weight="normal">ShowRegistryOutput</text><text class="hs" x="2776.5" y="3817" font-weight="normal">struct</text><path class="dv" d="M2739,3822 H2814"/><text class="t" x="2743" y="3832">SerialNumbers []uint32</text></g>
<g id="raida-showregistryrawoutput-struct"><rect class="n fa" x="2723" y="3856" width="77" height="45" rx="1.5"/><text class="hs" x="2761.5" y="3863" font-weight="normal">ShowRegistryRawOutput</text><text class="hs" x="2761.5" y="3871" font-weight="normal">struct</text><text class="t" x="2727" y="3886">SerialNumbers</text><text class="t" x="2727" y="3894">map[uint32][]int</text></g>

<g id="raida-upgrade-go">
<rect class="n fa" x="3167" y="3726" width="136" height="201" rx="1.5"/>
<text class="hs" x="3235" y="3734" font-weight="normal">Upgrade.go</text>
<path class="dv" d="M3167,3777 H3303"/>
<g class="t">
<text x="3172" y="3751">Upgrade struct</text>
<text x="3172" y="3767">UpgradeResponse struct</text>
<text x="3172" y="3789">func NewUpgrade(progressChannelchan</text>
<text x="3172" y="3797">interface{})*Upgrade</text>
<text x="3172" y="3813">func (v *Upgrade)<tspan class="tb">ProcessUpgrade</tspan>(ctx</text>
<text x="3172" y="3821">context.Context, sns []uint32,</text>
<text x="3172" y="3830">numCoinsint, tickets []string)</text>
<text x="3172" y="3837">([]UpgradeResponse,error)</text>
<text x="3172" y="3853">func (v *Upgrade)<tspan class="tb">ReadTicketAndSNs</tspan>(ctx</text>
<text x="3172" y="3861">context.Context, ridxint, data []byte,</text>
<text x="3172" y="3869">numCoinsint) ([]int, []byte)</text>
<text x="3172" y="3885">func (v *Upgrade)</text>
<text x="3172" y="3893"><tspan class="tb">ReadUpgradeSuccessFunction</tspan>(ctx</text>
<text x="3172" y="3901">context.Context, idxint, statusint, coins</text>
<text x="3172" y="3909">[]cloudcoin.CloudCoin, rdata []byte)</text>
<text x="3172" y="3917">(int,interface{})</text>
</g>
</g>
<g id="raida-upgrade-struct"><rect class="n fa" x="3374" y="3691" width="52" height="38" rx="1.5"/><text class="hs" x="3400" y="3699" font-weight="normal">Upgrade struct</text><text class="t" x="3378" y="3714">Servant</text><text class="t" x="3378" y="3722">NumCoins</text></g>
<g id="raida-upgraderesponse-struct"><rect class="n fa" x="3374" y="3773" width="66" height="53" rx="1.5"/><text class="hs" x="3407" y="3781" font-weight="normal">UpgradeResponse</text><text class="hs" x="3407" y="3789" font-weight="normal">struct</text><path class="dv" d="M3374,3793 H3440"/><text class="t" x="3378" y="3804">Ticket []byte</text><text class="t" x="3378" y="3812">Sns []uint32</text><text class="t" x="3378" y="3820">allCoinsValid bool</text></g>
</svg>
